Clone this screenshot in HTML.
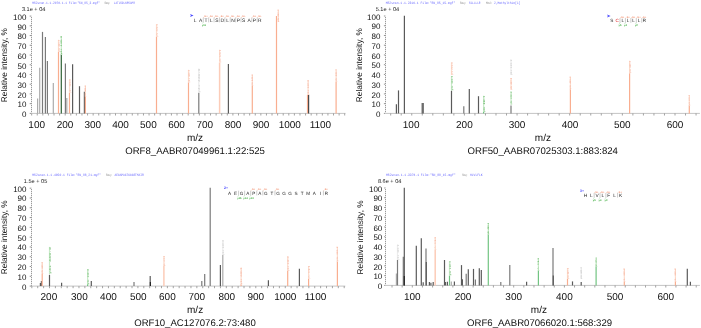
<!DOCTYPE html>
<html><head><meta charset="utf-8"><style>
html,body{margin:0;padding:0;background:#fff;}
svg{display:block;will-change:transform;text-rendering:geometricPrecision;}
</style></head><body>
<svg width="701" height="328" viewBox="0 0 701 328" font-family="Liberation Sans, sans-serif">
<rect width="701" height="328" fill="#fff"/>
<text x="32.20" y="4.30" font-size="3.5" fill="#6a6aff" textLength="67.8" lengthAdjust="spacingAndGlyphs" font-family="Liberation Mono, monospace">MS2scan.1.1.2070.1.1 File:"SN_85_3.mgf"</text>
<text x="104.50" y="4.30" font-size="3.5" fill="#888" textLength="6.0" lengthAdjust="spacingAndGlyphs" font-family="Liberation Mono, monospace">Seq:</text>
<text x="113.80" y="4.30" font-size="3.5" fill="#6a6aff" textLength="21.0" lengthAdjust="spacingAndGlyphs" font-family="Liberation Mono, monospace">LATLSDLNPSAPR</text>
<text x="21.90" y="11.00" font-size="5.6" text-anchor="start" fill="#222" >3.1e + 04</text>
<text x="26.40" y="117.15" font-size="8.0" text-anchor="end" fill="#111" >0</text>
<line x1="29.70" y1="113.40" x2="31.30" y2="113.40" stroke="#888" stroke-width="0.9" />
<text x="26.40" y="107.42" font-size="8.0" text-anchor="end" fill="#111" >10</text>
<line x1="29.70" y1="103.67" x2="31.30" y2="103.67" stroke="#888" stroke-width="0.9" />
<text x="26.40" y="97.69" font-size="8.0" text-anchor="end" fill="#111" >20</text>
<line x1="29.70" y1="93.94" x2="31.30" y2="93.94" stroke="#888" stroke-width="0.9" />
<text x="26.40" y="87.96" font-size="8.0" text-anchor="end" fill="#111" >30</text>
<line x1="29.70" y1="84.21" x2="31.30" y2="84.21" stroke="#888" stroke-width="0.9" />
<text x="26.40" y="78.23" font-size="8.0" text-anchor="end" fill="#111" >40</text>
<line x1="29.70" y1="74.48" x2="31.30" y2="74.48" stroke="#888" stroke-width="0.9" />
<text x="26.40" y="68.50" font-size="8.0" text-anchor="end" fill="#111" >50</text>
<line x1="29.70" y1="64.75" x2="31.30" y2="64.75" stroke="#888" stroke-width="0.9" />
<text x="26.40" y="58.77" font-size="8.0" text-anchor="end" fill="#111" >60</text>
<line x1="29.70" y1="55.02" x2="31.30" y2="55.02" stroke="#888" stroke-width="0.9" />
<text x="26.40" y="49.04" font-size="8.0" text-anchor="end" fill="#111" >70</text>
<line x1="29.70" y1="45.29" x2="31.30" y2="45.29" stroke="#888" stroke-width="0.9" />
<text x="26.40" y="39.31" font-size="8.0" text-anchor="end" fill="#111" >80</text>
<line x1="29.70" y1="35.56" x2="31.30" y2="35.56" stroke="#888" stroke-width="0.9" />
<text x="26.40" y="29.58" font-size="8.0" text-anchor="end" fill="#111" >90</text>
<line x1="29.70" y1="25.83" x2="31.30" y2="25.83" stroke="#888" stroke-width="0.9" />
<text x="26.40" y="19.85" font-size="8.0" text-anchor="end" fill="#111" >100</text>
<line x1="29.70" y1="16.10" x2="31.30" y2="16.10" stroke="#888" stroke-width="0.9" />
<rect x="31" y="15.60" width="1" height="97.80" fill="#e6e6e6"/>
<rect x="31" y="17" width="1" height="1" fill="#9a9a9a"/>
<rect x="31" y="19" width="1" height="1" fill="#9a9a9a"/>
<rect x="31" y="21" width="1" height="1" fill="#9a9a9a"/>
<rect x="31" y="23" width="1" height="1" fill="#9a9a9a"/>
<rect x="31" y="25" width="1" height="1" fill="#9a9a9a"/>
<rect x="31" y="27" width="1" height="1" fill="#9a9a9a"/>
<rect x="31" y="29" width="1" height="1" fill="#9a9a9a"/>
<rect x="31" y="31" width="1" height="1" fill="#9a9a9a"/>
<rect x="31" y="33" width="1" height="1" fill="#9a9a9a"/>
<rect x="31" y="35" width="1" height="1" fill="#9a9a9a"/>
<rect x="31" y="37" width="1" height="1" fill="#9a9a9a"/>
<rect x="31" y="39" width="1" height="1" fill="#9a9a9a"/>
<rect x="31" y="41" width="1" height="1" fill="#9a9a9a"/>
<rect x="31" y="43" width="1" height="1" fill="#9a9a9a"/>
<rect x="31" y="45" width="1" height="1" fill="#9a9a9a"/>
<rect x="31" y="47" width="1" height="1" fill="#9a9a9a"/>
<rect x="31" y="49" width="1" height="1" fill="#9a9a9a"/>
<rect x="31" y="51" width="1" height="1" fill="#9a9a9a"/>
<rect x="31" y="53" width="1" height="1" fill="#9a9a9a"/>
<rect x="31" y="55" width="1" height="1" fill="#9a9a9a"/>
<rect x="31" y="57" width="1" height="1" fill="#9a9a9a"/>
<rect x="31" y="59" width="1" height="1" fill="#9a9a9a"/>
<rect x="31" y="61" width="1" height="1" fill="#9a9a9a"/>
<rect x="31" y="63" width="1" height="1" fill="#9a9a9a"/>
<rect x="31" y="65" width="1" height="1" fill="#9a9a9a"/>
<rect x="31" y="67" width="1" height="1" fill="#9a9a9a"/>
<rect x="31" y="69" width="1" height="1" fill="#9a9a9a"/>
<rect x="31" y="71" width="1" height="1" fill="#9a9a9a"/>
<rect x="31" y="73" width="1" height="1" fill="#9a9a9a"/>
<rect x="31" y="75" width="1" height="1" fill="#9a9a9a"/>
<rect x="31" y="77" width="1" height="1" fill="#9a9a9a"/>
<rect x="31" y="79" width="1" height="1" fill="#9a9a9a"/>
<rect x="31" y="81" width="1" height="1" fill="#9a9a9a"/>
<rect x="31" y="83" width="1" height="1" fill="#9a9a9a"/>
<rect x="31" y="85" width="1" height="1" fill="#9a9a9a"/>
<rect x="31" y="87" width="1" height="1" fill="#9a9a9a"/>
<rect x="31" y="89" width="1" height="1" fill="#9a9a9a"/>
<rect x="31" y="91" width="1" height="1" fill="#9a9a9a"/>
<rect x="31" y="93" width="1" height="1" fill="#9a9a9a"/>
<rect x="31" y="95" width="1" height="1" fill="#9a9a9a"/>
<rect x="31" y="97" width="1" height="1" fill="#9a9a9a"/>
<rect x="31" y="99" width="1" height="1" fill="#9a9a9a"/>
<rect x="31" y="101" width="1" height="1" fill="#9a9a9a"/>
<rect x="31" y="103" width="1" height="1" fill="#9a9a9a"/>
<rect x="31" y="105" width="1" height="1" fill="#9a9a9a"/>
<rect x="31" y="107" width="1" height="1" fill="#9a9a9a"/>
<rect x="31" y="109" width="1" height="1" fill="#9a9a9a"/>
<rect x="31" y="111" width="1" height="1" fill="#9a9a9a"/>
<line x1="31.30" y1="113.40" x2="345.50" y2="113.40" stroke="#c4c4c4" stroke-width="1.0" />
<line x1="31.66" y1="113.40" x2="31.66" y2="115.50" stroke="#8c8c8c" stroke-width="0.8" />
<line x1="37.25" y1="113.40" x2="37.25" y2="115.50" stroke="#8c8c8c" stroke-width="0.8" />
<line x1="42.84" y1="113.40" x2="42.84" y2="115.50" stroke="#8c8c8c" stroke-width="0.8" />
<line x1="48.43" y1="113.40" x2="48.43" y2="115.50" stroke="#8c8c8c" stroke-width="0.8" />
<line x1="54.02" y1="113.40" x2="54.02" y2="115.50" stroke="#8c8c8c" stroke-width="0.8" />
<line x1="59.61" y1="113.40" x2="59.61" y2="115.50" stroke="#8c8c8c" stroke-width="0.8" />
<line x1="65.20" y1="113.40" x2="65.20" y2="115.50" stroke="#8c8c8c" stroke-width="0.8" />
<line x1="70.79" y1="113.40" x2="70.79" y2="115.50" stroke="#8c8c8c" stroke-width="0.8" />
<line x1="76.38" y1="113.40" x2="76.38" y2="115.50" stroke="#8c8c8c" stroke-width="0.8" />
<line x1="81.97" y1="113.40" x2="81.97" y2="115.50" stroke="#8c8c8c" stroke-width="0.8" />
<line x1="87.56" y1="113.40" x2="87.56" y2="115.50" stroke="#8c8c8c" stroke-width="0.8" />
<line x1="93.15" y1="113.40" x2="93.15" y2="115.50" stroke="#8c8c8c" stroke-width="0.8" />
<line x1="98.74" y1="113.40" x2="98.74" y2="115.50" stroke="#8c8c8c" stroke-width="0.8" />
<line x1="104.33" y1="113.40" x2="104.33" y2="115.50" stroke="#8c8c8c" stroke-width="0.8" />
<line x1="109.92" y1="113.40" x2="109.92" y2="115.50" stroke="#8c8c8c" stroke-width="0.8" />
<line x1="115.51" y1="113.40" x2="115.51" y2="115.50" stroke="#8c8c8c" stroke-width="0.8" />
<line x1="121.10" y1="113.40" x2="121.10" y2="115.50" stroke="#8c8c8c" stroke-width="0.8" />
<line x1="126.69" y1="113.40" x2="126.69" y2="115.50" stroke="#8c8c8c" stroke-width="0.8" />
<line x1="132.28" y1="113.40" x2="132.28" y2="115.50" stroke="#8c8c8c" stroke-width="0.8" />
<line x1="137.87" y1="113.40" x2="137.87" y2="115.50" stroke="#8c8c8c" stroke-width="0.8" />
<line x1="143.46" y1="113.40" x2="143.46" y2="115.50" stroke="#8c8c8c" stroke-width="0.8" />
<line x1="149.05" y1="113.40" x2="149.05" y2="115.50" stroke="#8c8c8c" stroke-width="0.8" />
<line x1="154.64" y1="113.40" x2="154.64" y2="115.50" stroke="#8c8c8c" stroke-width="0.8" />
<line x1="160.23" y1="113.40" x2="160.23" y2="115.50" stroke="#8c8c8c" stroke-width="0.8" />
<line x1="165.82" y1="113.40" x2="165.82" y2="115.50" stroke="#8c8c8c" stroke-width="0.8" />
<line x1="171.41" y1="113.40" x2="171.41" y2="115.50" stroke="#8c8c8c" stroke-width="0.8" />
<line x1="177.00" y1="113.40" x2="177.00" y2="115.50" stroke="#8c8c8c" stroke-width="0.8" />
<line x1="182.59" y1="113.40" x2="182.59" y2="115.50" stroke="#8c8c8c" stroke-width="0.8" />
<line x1="188.18" y1="113.40" x2="188.18" y2="115.50" stroke="#8c8c8c" stroke-width="0.8" />
<line x1="193.77" y1="113.40" x2="193.77" y2="115.50" stroke="#8c8c8c" stroke-width="0.8" />
<line x1="199.36" y1="113.40" x2="199.36" y2="115.50" stroke="#8c8c8c" stroke-width="0.8" />
<line x1="204.95" y1="113.40" x2="204.95" y2="115.50" stroke="#8c8c8c" stroke-width="0.8" />
<line x1="210.54" y1="113.40" x2="210.54" y2="115.50" stroke="#8c8c8c" stroke-width="0.8" />
<line x1="216.13" y1="113.40" x2="216.13" y2="115.50" stroke="#8c8c8c" stroke-width="0.8" />
<line x1="221.72" y1="113.40" x2="221.72" y2="115.50" stroke="#8c8c8c" stroke-width="0.8" />
<line x1="227.31" y1="113.40" x2="227.31" y2="115.50" stroke="#8c8c8c" stroke-width="0.8" />
<line x1="232.90" y1="113.40" x2="232.90" y2="115.50" stroke="#8c8c8c" stroke-width="0.8" />
<line x1="238.49" y1="113.40" x2="238.49" y2="115.50" stroke="#8c8c8c" stroke-width="0.8" />
<line x1="244.08" y1="113.40" x2="244.08" y2="115.50" stroke="#8c8c8c" stroke-width="0.8" />
<line x1="249.67" y1="113.40" x2="249.67" y2="115.50" stroke="#8c8c8c" stroke-width="0.8" />
<line x1="255.26" y1="113.40" x2="255.26" y2="115.50" stroke="#8c8c8c" stroke-width="0.8" />
<line x1="260.85" y1="113.40" x2="260.85" y2="115.50" stroke="#8c8c8c" stroke-width="0.8" />
<line x1="266.44" y1="113.40" x2="266.44" y2="115.50" stroke="#8c8c8c" stroke-width="0.8" />
<line x1="272.03" y1="113.40" x2="272.03" y2="115.50" stroke="#8c8c8c" stroke-width="0.8" />
<line x1="277.62" y1="113.40" x2="277.62" y2="115.50" stroke="#8c8c8c" stroke-width="0.8" />
<line x1="283.21" y1="113.40" x2="283.21" y2="115.50" stroke="#8c8c8c" stroke-width="0.8" />
<line x1="288.80" y1="113.40" x2="288.80" y2="115.50" stroke="#8c8c8c" stroke-width="0.8" />
<line x1="294.39" y1="113.40" x2="294.39" y2="115.50" stroke="#8c8c8c" stroke-width="0.8" />
<line x1="299.98" y1="113.40" x2="299.98" y2="115.50" stroke="#8c8c8c" stroke-width="0.8" />
<line x1="305.57" y1="113.40" x2="305.57" y2="115.50" stroke="#8c8c8c" stroke-width="0.8" />
<line x1="311.16" y1="113.40" x2="311.16" y2="115.50" stroke="#8c8c8c" stroke-width="0.8" />
<line x1="316.75" y1="113.40" x2="316.75" y2="115.50" stroke="#8c8c8c" stroke-width="0.8" />
<line x1="322.34" y1="113.40" x2="322.34" y2="115.50" stroke="#8c8c8c" stroke-width="0.8" />
<line x1="327.93" y1="113.40" x2="327.93" y2="115.50" stroke="#8c8c8c" stroke-width="0.8" />
<line x1="333.52" y1="113.40" x2="333.52" y2="115.50" stroke="#8c8c8c" stroke-width="0.8" />
<line x1="339.11" y1="113.40" x2="339.11" y2="115.50" stroke="#8c8c8c" stroke-width="0.8" />
<line x1="344.70" y1="113.40" x2="344.70" y2="115.50" stroke="#8c8c8c" stroke-width="0.8" />
<text x="36.70" y="128.20" font-size="10" text-anchor="middle" fill="#111" >100</text>
<text x="65.00" y="128.20" font-size="10" text-anchor="middle" fill="#111" >200</text>
<text x="92.80" y="128.20" font-size="10" text-anchor="middle" fill="#111" >300</text>
<text x="120.60" y="128.20" font-size="10" text-anchor="middle" fill="#111" >400</text>
<text x="148.40" y="128.20" font-size="10" text-anchor="middle" fill="#111" >500</text>
<text x="176.60" y="128.20" font-size="10" text-anchor="middle" fill="#111" >600</text>
<text x="204.80" y="128.20" font-size="10" text-anchor="middle" fill="#111" >700</text>
<text x="233.10" y="128.20" font-size="10" text-anchor="middle" fill="#111" >800</text>
<text x="261.00" y="128.20" font-size="10" text-anchor="middle" fill="#111" >900</text>
<text x="289.80" y="128.20" font-size="10" text-anchor="middle" fill="#111" >1000</text>
<text x="320.40" y="128.20" font-size="10" text-anchor="middle" fill="#111" >1100</text>
<text transform="translate(7.30,65.10) rotate(-90)" font-size="8.3" text-anchor="middle" fill="#111">Relative intensity, %</text>
<text x="195.00" y="140.50" font-size="10" text-anchor="middle" fill="#111" >m/z</text>
<text x="195.10" y="154.00" font-size="9.6" text-anchor="middle" fill="#111" >ORF8_AABR07049961.1:22:525</text>
<line x1="37.60" y1="98.50" x2="37.60" y2="113.40" stroke="#ababab" stroke-width="1.2" />
<line x1="39.70" y1="67.70" x2="39.70" y2="113.40" stroke="#ababab" stroke-width="1.2" />
<line x1="42.50" y1="31.90" x2="42.50" y2="113.40" stroke="#7a7a7a" stroke-width="1.2" />
<line x1="45.40" y1="37.10" x2="45.40" y2="113.40" stroke="#7a7a7a" stroke-width="1.2" />
<line x1="47.40" y1="60.90" x2="47.40" y2="113.40" stroke="#7a7a7a" stroke-width="1.2" />
<line x1="53.30" y1="83.00" x2="53.30" y2="113.40" stroke="#ababab" stroke-width="1.2" />
<line x1="58.50" y1="52.00" x2="58.50" y2="113.40" stroke="#f9ae90" stroke-width="1.2" />
<line x1="61.30" y1="54.80" x2="61.30" y2="113.40" stroke="#2f6236" stroke-width="1.2" />
<line x1="65.40" y1="63.60" x2="65.40" y2="113.40" stroke="#7a7a7a" stroke-width="1.2" />
<line x1="66.80" y1="98.00" x2="66.80" y2="113.40" stroke="#ababab" stroke-width="1.2" />
<line x1="69.50" y1="92.70" x2="69.50" y2="113.40" stroke="#f9ae90" stroke-width="1.2" />
<line x1="72.60" y1="64.20" x2="72.60" y2="113.40" stroke="#5a5a5a" stroke-width="1.2" />
<line x1="79.50" y1="86.20" x2="79.50" y2="113.40" stroke="#5a5a5a" stroke-width="1.2" />
<line x1="84.40" y1="91.80" x2="84.40" y2="113.40" stroke="#5a5a5a" stroke-width="1.2" />
<line x1="85.40" y1="97.00" x2="85.40" y2="113.40" stroke="#f9ae90" stroke-width="1.2" />
<line x1="156.50" y1="37.00" x2="156.50" y2="113.40" stroke="#f9ae90" stroke-width="1.2" />
<line x1="188.50" y1="82.40" x2="188.50" y2="113.40" stroke="#f9ae90" stroke-width="1.2" />
<line x1="198.80" y1="92.70" x2="198.80" y2="113.40" stroke="#7a7a7a" stroke-width="1.2" />
<line x1="219.60" y1="62.60" x2="219.60" y2="113.40" stroke="#fcccb8" stroke-width="1.5" />
<line x1="228.40" y1="64.00" x2="228.40" y2="113.40" stroke="#5a5a5a" stroke-width="1.2" />
<line x1="252.30" y1="86.00" x2="252.30" y2="113.40" stroke="#f9ae90" stroke-width="1.2" />
<line x1="276.50" y1="16.00" x2="276.50" y2="113.40" stroke="#f9ae90" stroke-width="1.2" />
<line x1="307.50" y1="94.90" x2="307.50" y2="113.40" stroke="#f9ae90" stroke-width="1.2" />
<line x1="308.60" y1="94.90" x2="308.60" y2="113.40" stroke="#4a4a4a" stroke-width="1.2" />
<line x1="336.10" y1="81.80" x2="336.10" y2="113.40" stroke="#f9ae90" stroke-width="1.2" />
<line x1="58.50" y1="39.80" x2="58.50" y2="52.00" stroke="#fddccc" stroke-width="1.2" />
<text transform="translate(59.50,52.00) rotate(-90)" font-size="2.4" fill="#f3a690" textLength="12.2" lengthAdjust="spacingAndGlyphs" font-family="Liberation Mono, monospace">y4+ 443.2</text>
<line x1="61.30" y1="36.00" x2="61.30" y2="54.80" stroke="#c8eac8" stroke-width="1.2" />
<text transform="translate(62.30,54.80) rotate(-90)" font-size="2.4" fill="#4aa84a" textLength="18.8" lengthAdjust="spacingAndGlyphs" font-family="Liberation Mono, monospace">y4+ 443.2</text>
<line x1="69.50" y1="79.30" x2="69.50" y2="92.70" stroke="#fddccc" stroke-width="1.2" />
<text transform="translate(70.50,92.70) rotate(-90)" font-size="2.4" fill="#f3a690" textLength="13.4" lengthAdjust="spacingAndGlyphs" font-family="Liberation Mono, monospace">y4+ 443.2</text>
<line x1="85.40" y1="85.40" x2="85.40" y2="97.00" stroke="#fddccc" stroke-width="1.2" />
<text transform="translate(86.40,97.00) rotate(-90)" font-size="2.4" fill="#f3a690" textLength="11.6" lengthAdjust="spacingAndGlyphs" font-family="Liberation Mono, monospace">y4+ 443.2</text>
<line x1="156.50" y1="24.10" x2="156.50" y2="37.00" stroke="#fddccc" stroke-width="1.2" />
<text transform="translate(157.50,37.00) rotate(-90)" font-size="2.4" fill="#f3a690" textLength="12.9" lengthAdjust="spacingAndGlyphs" font-family="Liberation Mono, monospace">y4+ 443.2</text>
<line x1="188.50" y1="69.80" x2="188.50" y2="82.40" stroke="#fddccc" stroke-width="1.2" />
<text transform="translate(189.50,82.40) rotate(-90)" font-size="2.4" fill="#f3a690" textLength="12.6" lengthAdjust="spacingAndGlyphs" font-family="Liberation Mono, monospace">y4+ 443.2</text>
<line x1="198.80" y1="68.60" x2="198.80" y2="92.70" stroke="#ececec" stroke-width="1.2" />
<text transform="translate(199.80,92.70) rotate(-90)" font-size="2.4" fill="#bdbdbd" textLength="24.1" lengthAdjust="spacingAndGlyphs" font-family="Liberation Mono, monospace">y4+ 443.2</text>
<line x1="219.60" y1="49.80" x2="219.60" y2="62.60" stroke="#fddccc" stroke-width="1.2" />
<text transform="translate(220.60,62.60) rotate(-90)" font-size="2.4" fill="#f3a690" textLength="12.8" lengthAdjust="spacingAndGlyphs" font-family="Liberation Mono, monospace">y4+ 443.2</text>
<line x1="252.30" y1="74.50" x2="252.30" y2="86.00" stroke="#fddccc" stroke-width="1.2" />
<text transform="translate(253.30,86.00) rotate(-90)" font-size="2.4" fill="#f3a690" textLength="11.5" lengthAdjust="spacingAndGlyphs" font-family="Liberation Mono, monospace">y4+ 443.2</text>
<line x1="278.30" y1="9.60" x2="278.30" y2="22.00" stroke="#fddccc" stroke-width="1.2" />
<text transform="translate(279.30,22.00) rotate(-90)" font-size="2.4" fill="#f3a690" textLength="12.4" lengthAdjust="spacingAndGlyphs" font-family="Liberation Mono, monospace">y4+ 443.2</text>
<line x1="308.10" y1="80.10" x2="308.10" y2="94.90" stroke="#fddccc" stroke-width="1.2" />
<text transform="translate(309.10,94.90) rotate(-90)" font-size="2.4" fill="#f3a690" textLength="14.8" lengthAdjust="spacingAndGlyphs" font-family="Liberation Mono, monospace">y4+ 443.2</text>
<line x1="336.10" y1="69.20" x2="336.10" y2="81.80" stroke="#fddccc" stroke-width="1.2" />
<text transform="translate(337.10,81.80) rotate(-90)" font-size="2.4" fill="#f3a690" textLength="12.6" lengthAdjust="spacingAndGlyphs" font-family="Liberation Mono, monospace">y4+ 443.2</text>
<text x="195.20" y="21.80" font-size="4.9" text-anchor="middle" fill="#262626" >L</text>
<text x="200.59" y="21.80" font-size="4.9" text-anchor="middle" fill="#262626" >A</text>
<text x="205.98" y="21.80" font-size="4.9" text-anchor="middle" fill="#262626" >T</text>
<text x="211.37" y="21.80" font-size="4.9" text-anchor="middle" fill="#262626" >L</text>
<text x="216.76" y="21.80" font-size="4.9" text-anchor="middle" fill="#262626" >S</text>
<text x="222.15" y="21.80" font-size="4.9" text-anchor="middle" fill="#262626" >D</text>
<text x="227.54" y="21.80" font-size="4.9" text-anchor="middle" fill="#262626" >L</text>
<text x="232.93" y="21.80" font-size="4.9" text-anchor="middle" fill="#262626" >N</text>
<text x="238.32" y="21.80" font-size="4.9" text-anchor="middle" fill="#262626" >P</text>
<text x="243.71" y="21.80" font-size="4.9" text-anchor="middle" fill="#262626" >S</text>
<text x="249.10" y="21.80" font-size="4.9" text-anchor="middle" fill="#262626" >A</text>
<text x="254.49" y="21.80" font-size="4.9" text-anchor="middle" fill="#262626" >P</text>
<text x="259.88" y="21.80" font-size="4.9" text-anchor="middle" fill="#262626" >R</text>
<path d="M190.00,13.90 L193.60,15.40 L190.00,16.90 L190.90,15.40 Z" fill="#4a4aff"/>
<line x1="203.28" y1="17.60" x2="203.28" y2="22.30" stroke="#aaa" stroke-width="0.6" />
<line x1="208.67" y1="17.60" x2="208.67" y2="22.30" stroke="#aaa" stroke-width="0.6" />
<line x1="214.06" y1="17.60" x2="214.06" y2="22.30" stroke="#aaa" stroke-width="0.6" />
<line x1="219.45" y1="17.60" x2="219.45" y2="22.30" stroke="#aaa" stroke-width="0.6" />
<line x1="224.84" y1="17.60" x2="224.84" y2="22.30" stroke="#aaa" stroke-width="0.6" />
<line x1="230.23" y1="17.60" x2="230.23" y2="22.30" stroke="#aaa" stroke-width="0.6" />
<line x1="235.62" y1="17.60" x2="235.62" y2="22.30" stroke="#aaa" stroke-width="0.6" />
<line x1="241.01" y1="17.60" x2="241.01" y2="22.30" stroke="#aaa" stroke-width="0.6" />
<line x1="251.79" y1="17.60" x2="251.79" y2="22.30" stroke="#aaa" stroke-width="0.6" />
<line x1="257.19" y1="17.60" x2="257.19" y2="22.30" stroke="#aaa" stroke-width="0.6" />
<line x1="203.28" y1="17.60" x2="204.28" y2="16.90" stroke="#f4b090" stroke-width="0.5" />
<text x="204.59" y="17.20" font-size="2.6" text-anchor="start" fill="#f29070" font-weight="bold">b+</text>
<line x1="208.67" y1="17.60" x2="209.67" y2="16.90" stroke="#f4b090" stroke-width="0.5" />
<text x="209.97" y="17.20" font-size="2.6" text-anchor="start" fill="#f29070" font-weight="bold">b+</text>
<line x1="214.06" y1="17.60" x2="215.06" y2="16.90" stroke="#f4b090" stroke-width="0.5" />
<text x="215.37" y="17.20" font-size="2.6" text-anchor="start" fill="#f29070" font-weight="bold">b+</text>
<line x1="219.45" y1="17.60" x2="220.45" y2="16.90" stroke="#f4b090" stroke-width="0.5" />
<text x="220.75" y="17.20" font-size="2.6" text-anchor="start" fill="#f29070" font-weight="bold">b+</text>
<line x1="224.84" y1="17.60" x2="225.84" y2="16.90" stroke="#f4b090" stroke-width="0.5" />
<text x="226.15" y="17.20" font-size="2.6" text-anchor="start" fill="#f29070" font-weight="bold">b+</text>
<line x1="230.23" y1="17.60" x2="231.23" y2="16.90" stroke="#f4b090" stroke-width="0.5" />
<text x="231.53" y="17.20" font-size="2.6" text-anchor="start" fill="#f29070" font-weight="bold">b+</text>
<line x1="235.62" y1="17.60" x2="236.62" y2="16.90" stroke="#f4b090" stroke-width="0.5" />
<text x="236.93" y="17.20" font-size="2.6" text-anchor="start" fill="#f29070" font-weight="bold">b+</text>
<line x1="241.01" y1="17.60" x2="242.01" y2="16.90" stroke="#f4b090" stroke-width="0.5" />
<text x="242.31" y="17.20" font-size="2.6" text-anchor="start" fill="#f29070" font-weight="bold">b+</text>
<line x1="251.79" y1="17.60" x2="252.79" y2="16.90" stroke="#f4b090" stroke-width="0.5" />
<text x="253.09" y="17.20" font-size="2.6" text-anchor="start" fill="#f29070" font-weight="bold">b+</text>
<line x1="257.19" y1="17.60" x2="258.19" y2="16.90" stroke="#f4b090" stroke-width="0.5" />
<text x="258.49" y="17.20" font-size="2.6" text-anchor="start" fill="#f29070" font-weight="bold">b+</text>
<line x1="203.28" y1="22.30" x2="202.48" y2="23.40" stroke="#90d090" stroke-width="0.5" />
<text x="201.88" y="25.60" font-size="2.6" text-anchor="start" fill="#36a836" font-weight="bold">y11</text>
<text x="385.70" y="4.30" font-size="3.5" fill="#6a6aff" textLength="69.6" lengthAdjust="spacingAndGlyphs" font-family="Liberation Mono, monospace">MS2scan.1.1.2316.1 File:"SN_85_15.mgf"</text>
<text x="460.00" y="4.30" font-size="3.5" fill="#888" textLength="6.0" lengthAdjust="spacingAndGlyphs" font-family="Liberation Mono, monospace">Seq:</text>
<text x="469.00" y="4.30" font-size="3.5" fill="#6a6aff" textLength="11.5" lengthAdjust="spacingAndGlyphs" font-family="Liberation Mono, monospace">SCLLLLR</text>
<text x="486.00" y="4.30" font-size="3.5" fill="#888" textLength="6.0" lengthAdjust="spacingAndGlyphs" font-family="Liberation Mono, monospace">Mod:</text>
<text x="494.00" y="4.30" font-size="3.5" fill="#6a6aff" textLength="26.4" lengthAdjust="spacingAndGlyphs" font-family="Liberation Mono, monospace">2,Methylthio[C]</text>
<text x="375.70" y="11.00" font-size="5.6" text-anchor="start" fill="#222" >5.1e + 04</text>
<text x="380.40" y="117.15" font-size="8.0" text-anchor="end" fill="#111" >0</text>
<line x1="383.90" y1="113.40" x2="385.50" y2="113.40" stroke="#888" stroke-width="0.9" />
<text x="380.40" y="107.41" font-size="8.0" text-anchor="end" fill="#111" >10</text>
<line x1="383.90" y1="103.66" x2="385.50" y2="103.66" stroke="#888" stroke-width="0.9" />
<text x="380.40" y="97.67" font-size="8.0" text-anchor="end" fill="#111" >20</text>
<line x1="383.90" y1="93.92" x2="385.50" y2="93.92" stroke="#888" stroke-width="0.9" />
<text x="380.40" y="87.93" font-size="8.0" text-anchor="end" fill="#111" >30</text>
<line x1="383.90" y1="84.18" x2="385.50" y2="84.18" stroke="#888" stroke-width="0.9" />
<text x="380.40" y="78.19" font-size="8.0" text-anchor="end" fill="#111" >40</text>
<line x1="383.90" y1="74.44" x2="385.50" y2="74.44" stroke="#888" stroke-width="0.9" />
<text x="380.40" y="68.45" font-size="8.0" text-anchor="end" fill="#111" >50</text>
<line x1="383.90" y1="64.70" x2="385.50" y2="64.70" stroke="#888" stroke-width="0.9" />
<text x="380.40" y="58.71" font-size="8.0" text-anchor="end" fill="#111" >60</text>
<line x1="383.90" y1="54.96" x2="385.50" y2="54.96" stroke="#888" stroke-width="0.9" />
<text x="380.40" y="48.97" font-size="8.0" text-anchor="end" fill="#111" >70</text>
<line x1="383.90" y1="45.22" x2="385.50" y2="45.22" stroke="#888" stroke-width="0.9" />
<text x="380.40" y="39.23" font-size="8.0" text-anchor="end" fill="#111" >80</text>
<line x1="383.90" y1="35.48" x2="385.50" y2="35.48" stroke="#888" stroke-width="0.9" />
<text x="380.40" y="29.49" font-size="8.0" text-anchor="end" fill="#111" >90</text>
<line x1="383.90" y1="25.74" x2="385.50" y2="25.74" stroke="#888" stroke-width="0.9" />
<text x="380.40" y="19.75" font-size="8.0" text-anchor="end" fill="#111" >100</text>
<line x1="383.90" y1="16.00" x2="385.50" y2="16.00" stroke="#888" stroke-width="0.9" />
<rect x="385" y="15.50" width="1" height="97.90" fill="#e6e6e6"/>
<rect x="385" y="17" width="1" height="1" fill="#9a9a9a"/>
<rect x="385" y="19" width="1" height="1" fill="#9a9a9a"/>
<rect x="385" y="21" width="1" height="1" fill="#9a9a9a"/>
<rect x="385" y="23" width="1" height="1" fill="#9a9a9a"/>
<rect x="385" y="25" width="1" height="1" fill="#9a9a9a"/>
<rect x="385" y="27" width="1" height="1" fill="#9a9a9a"/>
<rect x="385" y="29" width="1" height="1" fill="#9a9a9a"/>
<rect x="385" y="31" width="1" height="1" fill="#9a9a9a"/>
<rect x="385" y="33" width="1" height="1" fill="#9a9a9a"/>
<rect x="385" y="35" width="1" height="1" fill="#9a9a9a"/>
<rect x="385" y="37" width="1" height="1" fill="#9a9a9a"/>
<rect x="385" y="39" width="1" height="1" fill="#9a9a9a"/>
<rect x="385" y="41" width="1" height="1" fill="#9a9a9a"/>
<rect x="385" y="43" width="1" height="1" fill="#9a9a9a"/>
<rect x="385" y="45" width="1" height="1" fill="#9a9a9a"/>
<rect x="385" y="47" width="1" height="1" fill="#9a9a9a"/>
<rect x="385" y="49" width="1" height="1" fill="#9a9a9a"/>
<rect x="385" y="51" width="1" height="1" fill="#9a9a9a"/>
<rect x="385" y="53" width="1" height="1" fill="#9a9a9a"/>
<rect x="385" y="55" width="1" height="1" fill="#9a9a9a"/>
<rect x="385" y="57" width="1" height="1" fill="#9a9a9a"/>
<rect x="385" y="59" width="1" height="1" fill="#9a9a9a"/>
<rect x="385" y="61" width="1" height="1" fill="#9a9a9a"/>
<rect x="385" y="63" width="1" height="1" fill="#9a9a9a"/>
<rect x="385" y="65" width="1" height="1" fill="#9a9a9a"/>
<rect x="385" y="67" width="1" height="1" fill="#9a9a9a"/>
<rect x="385" y="69" width="1" height="1" fill="#9a9a9a"/>
<rect x="385" y="71" width="1" height="1" fill="#9a9a9a"/>
<rect x="385" y="73" width="1" height="1" fill="#9a9a9a"/>
<rect x="385" y="75" width="1" height="1" fill="#9a9a9a"/>
<rect x="385" y="77" width="1" height="1" fill="#9a9a9a"/>
<rect x="385" y="79" width="1" height="1" fill="#9a9a9a"/>
<rect x="385" y="81" width="1" height="1" fill="#9a9a9a"/>
<rect x="385" y="83" width="1" height="1" fill="#9a9a9a"/>
<rect x="385" y="85" width="1" height="1" fill="#9a9a9a"/>
<rect x="385" y="87" width="1" height="1" fill="#9a9a9a"/>
<rect x="385" y="89" width="1" height="1" fill="#9a9a9a"/>
<rect x="385" y="91" width="1" height="1" fill="#9a9a9a"/>
<rect x="385" y="93" width="1" height="1" fill="#9a9a9a"/>
<rect x="385" y="95" width="1" height="1" fill="#9a9a9a"/>
<rect x="385" y="97" width="1" height="1" fill="#9a9a9a"/>
<rect x="385" y="99" width="1" height="1" fill="#9a9a9a"/>
<rect x="385" y="101" width="1" height="1" fill="#9a9a9a"/>
<rect x="385" y="103" width="1" height="1" fill="#9a9a9a"/>
<rect x="385" y="105" width="1" height="1" fill="#9a9a9a"/>
<rect x="385" y="107" width="1" height="1" fill="#9a9a9a"/>
<rect x="385" y="109" width="1" height="1" fill="#9a9a9a"/>
<rect x="385" y="111" width="1" height="1" fill="#9a9a9a"/>
<line x1="385.50" y1="113.40" x2="699.90" y2="113.40" stroke="#c4c4c4" stroke-width="1.0" />
<line x1="390.69" y1="113.40" x2="390.69" y2="115.50" stroke="#8c8c8c" stroke-width="0.8" />
<line x1="401.22" y1="113.40" x2="401.22" y2="115.50" stroke="#8c8c8c" stroke-width="0.8" />
<line x1="411.75" y1="113.40" x2="411.75" y2="115.50" stroke="#8c8c8c" stroke-width="0.8" />
<line x1="422.28" y1="113.40" x2="422.28" y2="115.50" stroke="#8c8c8c" stroke-width="0.8" />
<line x1="432.81" y1="113.40" x2="432.81" y2="115.50" stroke="#8c8c8c" stroke-width="0.8" />
<line x1="443.34" y1="113.40" x2="443.34" y2="115.50" stroke="#8c8c8c" stroke-width="0.8" />
<line x1="453.87" y1="113.40" x2="453.87" y2="115.50" stroke="#8c8c8c" stroke-width="0.8" />
<line x1="464.40" y1="113.40" x2="464.40" y2="115.50" stroke="#8c8c8c" stroke-width="0.8" />
<line x1="474.93" y1="113.40" x2="474.93" y2="115.50" stroke="#8c8c8c" stroke-width="0.8" />
<line x1="485.46" y1="113.40" x2="485.46" y2="115.50" stroke="#8c8c8c" stroke-width="0.8" />
<line x1="495.99" y1="113.40" x2="495.99" y2="115.50" stroke="#8c8c8c" stroke-width="0.8" />
<line x1="506.52" y1="113.40" x2="506.52" y2="115.50" stroke="#8c8c8c" stroke-width="0.8" />
<line x1="517.05" y1="113.40" x2="517.05" y2="115.50" stroke="#8c8c8c" stroke-width="0.8" />
<line x1="527.58" y1="113.40" x2="527.58" y2="115.50" stroke="#8c8c8c" stroke-width="0.8" />
<line x1="538.11" y1="113.40" x2="538.11" y2="115.50" stroke="#8c8c8c" stroke-width="0.8" />
<line x1="548.64" y1="113.40" x2="548.64" y2="115.50" stroke="#8c8c8c" stroke-width="0.8" />
<line x1="559.17" y1="113.40" x2="559.17" y2="115.50" stroke="#8c8c8c" stroke-width="0.8" />
<line x1="569.70" y1="113.40" x2="569.70" y2="115.50" stroke="#8c8c8c" stroke-width="0.8" />
<line x1="580.23" y1="113.40" x2="580.23" y2="115.50" stroke="#8c8c8c" stroke-width="0.8" />
<line x1="590.76" y1="113.40" x2="590.76" y2="115.50" stroke="#8c8c8c" stroke-width="0.8" />
<line x1="601.29" y1="113.40" x2="601.29" y2="115.50" stroke="#8c8c8c" stroke-width="0.8" />
<line x1="611.82" y1="113.40" x2="611.82" y2="115.50" stroke="#8c8c8c" stroke-width="0.8" />
<line x1="622.35" y1="113.40" x2="622.35" y2="115.50" stroke="#8c8c8c" stroke-width="0.8" />
<line x1="632.88" y1="113.40" x2="632.88" y2="115.50" stroke="#8c8c8c" stroke-width="0.8" />
<line x1="643.41" y1="113.40" x2="643.41" y2="115.50" stroke="#8c8c8c" stroke-width="0.8" />
<line x1="653.94" y1="113.40" x2="653.94" y2="115.50" stroke="#8c8c8c" stroke-width="0.8" />
<line x1="664.47" y1="113.40" x2="664.47" y2="115.50" stroke="#8c8c8c" stroke-width="0.8" />
<line x1="675.00" y1="113.40" x2="675.00" y2="115.50" stroke="#8c8c8c" stroke-width="0.8" />
<line x1="685.53" y1="113.40" x2="685.53" y2="115.50" stroke="#8c8c8c" stroke-width="0.8" />
<line x1="696.06" y1="113.40" x2="696.06" y2="115.50" stroke="#8c8c8c" stroke-width="0.8" />
<text x="411.15" y="128.20" font-size="10" text-anchor="middle" fill="#111" >100</text>
<text x="464.40" y="128.20" font-size="10" text-anchor="middle" fill="#111" >200</text>
<text x="517.05" y="128.20" font-size="10" text-anchor="middle" fill="#111" >300</text>
<text x="570.10" y="128.20" font-size="10" text-anchor="middle" fill="#111" >400</text>
<text x="622.35" y="128.20" font-size="10" text-anchor="middle" fill="#111" >500</text>
<text x="675.00" y="128.20" font-size="10" text-anchor="middle" fill="#111" >600</text>
<text transform="translate(361.50,65.10) rotate(-90)" font-size="8.3" text-anchor="middle" fill="#111">Relative intensity, %</text>
<text x="542.90" y="140.80" font-size="10" text-anchor="middle" fill="#111" >m/z</text>
<text x="542.70" y="154.20" font-size="9.6" text-anchor="middle" fill="#111" >ORF50_AABR07025303.1:883:824</text>
<line x1="396.40" y1="104.30" x2="396.40" y2="113.40" stroke="#5a5a5a" stroke-width="1.2" />
<line x1="398.50" y1="90.40" x2="398.50" y2="113.40" stroke="#5a5a5a" stroke-width="1.2" />
<line x1="404.40" y1="15.80" x2="404.40" y2="113.40" stroke="#5a5a5a" stroke-width="1.2" />
<line x1="422.20" y1="103.10" x2="422.20" y2="113.40" stroke="#5a5a5a" stroke-width="1.2" />
<line x1="423.20" y1="103.10" x2="423.20" y2="113.40" stroke="#5a5a5a" stroke-width="1.2" />
<line x1="451.50" y1="90.70" x2="451.50" y2="113.40" stroke="#5a5a5a" stroke-width="1.2" />
<line x1="463.80" y1="106.30" x2="463.80" y2="113.40" stroke="#7a7a7a" stroke-width="1.2" />
<line x1="469.30" y1="88.90" x2="469.30" y2="113.40" stroke="#5a5a5a" stroke-width="1.2" />
<line x1="478.50" y1="96.20" x2="478.50" y2="113.40" stroke="#5a5a5a" stroke-width="1.2" />
<line x1="483.60" y1="110.00" x2="483.60" y2="113.40" stroke="#72c482" stroke-width="1.2" />
<line x1="511.00" y1="105.40" x2="511.00" y2="113.40" stroke="#7a7a7a" stroke-width="1.2" />
<line x1="570.40" y1="89.20" x2="570.40" y2="113.40" stroke="#f9ae90" stroke-width="1.2" />
<line x1="629.60" y1="73.20" x2="629.60" y2="113.40" stroke="#f9ae90" stroke-width="1.2" />
<line x1="689.30" y1="105.50" x2="689.30" y2="113.40" stroke="#f9ae90" stroke-width="1.2" />
<line x1="451.50" y1="76.00" x2="451.50" y2="90.50" stroke="#c8eac8" stroke-width="1.2" />
<text transform="translate(452.50,90.50) rotate(-90)" font-size="2.4" fill="#4aa84a" textLength="14.5" lengthAdjust="spacingAndGlyphs" font-family="Liberation Mono, monospace">y4+ 443.2</text>
<line x1="451.50" y1="62.30" x2="451.50" y2="75.10" stroke="#fddccc" stroke-width="1.2" />
<text transform="translate(452.50,75.10) rotate(-90)" font-size="2.4" fill="#f3a690" textLength="12.8" lengthAdjust="spacingAndGlyphs" font-family="Liberation Mono, monospace">y4+ 443.2</text>
<line x1="483.60" y1="95.70" x2="483.60" y2="112.00" stroke="#c8eac8" stroke-width="1.2" />
<text transform="translate(484.60,112.00) rotate(-90)" font-size="2.4" fill="#4aa84a" textLength="16.3" lengthAdjust="spacingAndGlyphs" font-family="Liberation Mono, monospace">y4+ 443.2</text>
<line x1="511.00" y1="91.60" x2="511.00" y2="104.50" stroke="#c8eac8" stroke-width="1.2" />
<text transform="translate(512.00,104.50) rotate(-90)" font-size="2.4" fill="#4aa84a" textLength="12.9" lengthAdjust="spacingAndGlyphs" font-family="Liberation Mono, monospace">y4+ 443.2</text>
<line x1="511.00" y1="77.90" x2="511.00" y2="89.80" stroke="#fddccc" stroke-width="1.2" />
<text transform="translate(512.00,89.80) rotate(-90)" font-size="2.4" fill="#f3a690" textLength="11.9" lengthAdjust="spacingAndGlyphs" font-family="Liberation Mono, monospace">y4+ 443.2</text>
<line x1="511.00" y1="59.60" x2="511.00" y2="75.10" stroke="#ececec" stroke-width="1.2" />
<text transform="translate(512.00,75.10) rotate(-90)" font-size="2.4" fill="#bdbdbd" textLength="15.5" lengthAdjust="spacingAndGlyphs" font-family="Liberation Mono, monospace">y4+ 443.2</text>
<line x1="570.40" y1="76.60" x2="570.40" y2="89.20" stroke="#fddccc" stroke-width="1.2" />
<text transform="translate(571.40,89.20) rotate(-90)" font-size="2.4" fill="#f3a690" textLength="12.6" lengthAdjust="spacingAndGlyphs" font-family="Liberation Mono, monospace">y4+ 443.2</text>
<line x1="629.60" y1="60.80" x2="629.60" y2="73.20" stroke="#fddccc" stroke-width="1.2" />
<text transform="translate(630.60,73.20) rotate(-90)" font-size="2.4" fill="#f3a690" textLength="12.4" lengthAdjust="spacingAndGlyphs" font-family="Liberation Mono, monospace">y4+ 443.2</text>
<line x1="689.30" y1="95.20" x2="689.30" y2="105.50" stroke="#fddccc" stroke-width="1.2" />
<text transform="translate(690.30,105.50) rotate(-90)" font-size="2.4" fill="#f3a690" textLength="10.3" lengthAdjust="spacingAndGlyphs" font-family="Liberation Mono, monospace">y4+ 443.2</text>
<text x="611.80" y="22.30" font-size="4.6" text-anchor="middle" fill="#262626" >S</text>
<text x="617.25" y="22.30" font-size="4.6" text-anchor="middle" fill="#e02020" >C</text>
<text x="622.70" y="22.30" font-size="4.6" text-anchor="middle" fill="#262626" >L</text>
<text x="628.15" y="22.30" font-size="4.6" text-anchor="middle" fill="#262626" >L</text>
<text x="633.60" y="22.30" font-size="4.6" text-anchor="middle" fill="#262626" >L</text>
<text x="639.05" y="22.30" font-size="4.6" text-anchor="middle" fill="#262626" >L</text>
<text x="644.50" y="22.30" font-size="4.6" text-anchor="middle" fill="#262626" >R</text>
<path d="M607.00,14.60 L610.60,16.10 L607.00,17.60 L607.90,16.10 Z" fill="#4a4aff"/>
<line x1="619.97" y1="18.10" x2="619.97" y2="22.80" stroke="#aaa" stroke-width="0.6" />
<line x1="625.42" y1="18.10" x2="625.42" y2="22.80" stroke="#aaa" stroke-width="0.6" />
<line x1="630.88" y1="18.10" x2="630.88" y2="22.80" stroke="#aaa" stroke-width="0.6" />
<line x1="636.32" y1="18.10" x2="636.32" y2="22.80" stroke="#aaa" stroke-width="0.6" />
<line x1="641.77" y1="18.10" x2="641.77" y2="22.80" stroke="#aaa" stroke-width="0.6" />
<line x1="619.97" y1="18.10" x2="620.97" y2="17.40" stroke="#f4b090" stroke-width="0.5" />
<text x="621.27" y="17.70" font-size="2.6" text-anchor="start" fill="#f29070" font-weight="bold">b+</text>
<line x1="625.42" y1="18.10" x2="626.42" y2="17.40" stroke="#f4b090" stroke-width="0.5" />
<text x="626.72" y="17.70" font-size="2.6" text-anchor="start" fill="#f29070" font-weight="bold">b+</text>
<line x1="630.88" y1="18.10" x2="631.88" y2="17.40" stroke="#f4b090" stroke-width="0.5" />
<text x="632.17" y="17.70" font-size="2.6" text-anchor="start" fill="#f29070" font-weight="bold">b+</text>
<line x1="636.32" y1="18.10" x2="637.32" y2="17.40" stroke="#f4b090" stroke-width="0.5" />
<text x="637.62" y="17.70" font-size="2.6" text-anchor="start" fill="#f29070" font-weight="bold">b+</text>
<line x1="641.77" y1="18.10" x2="642.77" y2="17.40" stroke="#f4b090" stroke-width="0.5" />
<text x="643.07" y="17.70" font-size="2.6" text-anchor="start" fill="#f29070" font-weight="bold">b+</text>
<line x1="619.97" y1="22.80" x2="619.17" y2="23.90" stroke="#90d090" stroke-width="0.5" />
<text x="618.57" y="26.10" font-size="2.6" text-anchor="start" fill="#36a836" font-weight="bold">y5</text>
<line x1="625.42" y1="22.80" x2="624.62" y2="23.90" stroke="#90d090" stroke-width="0.5" />
<text x="624.02" y="26.10" font-size="2.6" text-anchor="start" fill="#36a836" font-weight="bold">y4</text>
<line x1="636.32" y1="22.80" x2="635.52" y2="23.90" stroke="#90d090" stroke-width="0.5" />
<text x="634.92" y="26.10" font-size="2.6" text-anchor="start" fill="#36a836" font-weight="bold">y2</text>
<text x="32.30" y="176.30" font-size="3.5" fill="#6a6aff" textLength="68.7" lengthAdjust="spacingAndGlyphs" font-family="Liberation Mono, monospace">MS2scan.1.1.4050.1 File:"SN_88_21.mgf"</text>
<text x="106.00" y="176.30" font-size="3.5" fill="#888" textLength="6.0" lengthAdjust="spacingAndGlyphs" font-family="Liberation Mono, monospace">Seq:</text>
<text x="114.50" y="176.30" font-size="3.5" fill="#6a6aff" textLength="29.2" lengthAdjust="spacingAndGlyphs" font-family="Liberation Mono, monospace">AEGAPAGTGGGSTMAIR</text>
<text x="23.80" y="183.20" font-size="5.6" text-anchor="start" fill="#222" >1.5e + 05</text>
<text x="26.50" y="289.50" font-size="8.0" text-anchor="end" fill="#111" >0</text>
<line x1="29.70" y1="286.10" x2="31.30" y2="286.10" stroke="#888" stroke-width="0.9" />
<text x="26.50" y="279.71" font-size="8.0" text-anchor="end" fill="#111" >10</text>
<line x1="29.70" y1="276.31" x2="31.30" y2="276.31" stroke="#888" stroke-width="0.9" />
<text x="26.50" y="269.92" font-size="8.0" text-anchor="end" fill="#111" >20</text>
<line x1="29.70" y1="266.52" x2="31.30" y2="266.52" stroke="#888" stroke-width="0.9" />
<text x="26.50" y="260.13" font-size="8.0" text-anchor="end" fill="#111" >30</text>
<line x1="29.70" y1="256.73" x2="31.30" y2="256.73" stroke="#888" stroke-width="0.9" />
<text x="26.50" y="250.34" font-size="8.0" text-anchor="end" fill="#111" >40</text>
<line x1="29.70" y1="246.94" x2="31.30" y2="246.94" stroke="#888" stroke-width="0.9" />
<text x="26.50" y="240.55" font-size="8.0" text-anchor="end" fill="#111" >50</text>
<line x1="29.70" y1="237.15" x2="31.30" y2="237.15" stroke="#888" stroke-width="0.9" />
<text x="26.50" y="230.76" font-size="8.0" text-anchor="end" fill="#111" >60</text>
<line x1="29.70" y1="227.36" x2="31.30" y2="227.36" stroke="#888" stroke-width="0.9" />
<text x="26.50" y="220.97" font-size="8.0" text-anchor="end" fill="#111" >70</text>
<line x1="29.70" y1="217.57" x2="31.30" y2="217.57" stroke="#888" stroke-width="0.9" />
<text x="26.50" y="211.18" font-size="8.0" text-anchor="end" fill="#111" >80</text>
<line x1="29.70" y1="207.78" x2="31.30" y2="207.78" stroke="#888" stroke-width="0.9" />
<text x="26.50" y="201.39" font-size="8.0" text-anchor="end" fill="#111" >90</text>
<line x1="29.70" y1="197.99" x2="31.30" y2="197.99" stroke="#888" stroke-width="0.9" />
<text x="26.50" y="191.60" font-size="8.0" text-anchor="end" fill="#111" >100</text>
<line x1="29.70" y1="188.20" x2="31.30" y2="188.20" stroke="#888" stroke-width="0.9" />
<rect x="31" y="187.70" width="1" height="98.40" fill="#e6e6e6"/>
<rect x="31" y="189" width="1" height="1" fill="#9a9a9a"/>
<rect x="31" y="191" width="1" height="1" fill="#9a9a9a"/>
<rect x="31" y="193" width="1" height="1" fill="#9a9a9a"/>
<rect x="31" y="195" width="1" height="1" fill="#9a9a9a"/>
<rect x="31" y="197" width="1" height="1" fill="#9a9a9a"/>
<rect x="31" y="199" width="1" height="1" fill="#9a9a9a"/>
<rect x="31" y="201" width="1" height="1" fill="#9a9a9a"/>
<rect x="31" y="203" width="1" height="1" fill="#9a9a9a"/>
<rect x="31" y="205" width="1" height="1" fill="#9a9a9a"/>
<rect x="31" y="207" width="1" height="1" fill="#9a9a9a"/>
<rect x="31" y="209" width="1" height="1" fill="#9a9a9a"/>
<rect x="31" y="211" width="1" height="1" fill="#9a9a9a"/>
<rect x="31" y="213" width="1" height="1" fill="#9a9a9a"/>
<rect x="31" y="215" width="1" height="1" fill="#9a9a9a"/>
<rect x="31" y="217" width="1" height="1" fill="#9a9a9a"/>
<rect x="31" y="219" width="1" height="1" fill="#9a9a9a"/>
<rect x="31" y="221" width="1" height="1" fill="#9a9a9a"/>
<rect x="31" y="223" width="1" height="1" fill="#9a9a9a"/>
<rect x="31" y="225" width="1" height="1" fill="#9a9a9a"/>
<rect x="31" y="227" width="1" height="1" fill="#9a9a9a"/>
<rect x="31" y="229" width="1" height="1" fill="#9a9a9a"/>
<rect x="31" y="231" width="1" height="1" fill="#9a9a9a"/>
<rect x="31" y="233" width="1" height="1" fill="#9a9a9a"/>
<rect x="31" y="235" width="1" height="1" fill="#9a9a9a"/>
<rect x="31" y="237" width="1" height="1" fill="#9a9a9a"/>
<rect x="31" y="239" width="1" height="1" fill="#9a9a9a"/>
<rect x="31" y="241" width="1" height="1" fill="#9a9a9a"/>
<rect x="31" y="243" width="1" height="1" fill="#9a9a9a"/>
<rect x="31" y="245" width="1" height="1" fill="#9a9a9a"/>
<rect x="31" y="247" width="1" height="1" fill="#9a9a9a"/>
<rect x="31" y="249" width="1" height="1" fill="#9a9a9a"/>
<rect x="31" y="251" width="1" height="1" fill="#9a9a9a"/>
<rect x="31" y="253" width="1" height="1" fill="#9a9a9a"/>
<rect x="31" y="255" width="1" height="1" fill="#9a9a9a"/>
<rect x="31" y="257" width="1" height="1" fill="#9a9a9a"/>
<rect x="31" y="259" width="1" height="1" fill="#9a9a9a"/>
<rect x="31" y="261" width="1" height="1" fill="#9a9a9a"/>
<rect x="31" y="263" width="1" height="1" fill="#9a9a9a"/>
<rect x="31" y="265" width="1" height="1" fill="#9a9a9a"/>
<rect x="31" y="267" width="1" height="1" fill="#9a9a9a"/>
<rect x="31" y="269" width="1" height="1" fill="#9a9a9a"/>
<rect x="31" y="271" width="1" height="1" fill="#9a9a9a"/>
<rect x="31" y="273" width="1" height="1" fill="#9a9a9a"/>
<rect x="31" y="275" width="1" height="1" fill="#9a9a9a"/>
<rect x="31" y="277" width="1" height="1" fill="#9a9a9a"/>
<rect x="31" y="279" width="1" height="1" fill="#9a9a9a"/>
<rect x="31" y="281" width="1" height="1" fill="#9a9a9a"/>
<rect x="31" y="283" width="1" height="1" fill="#9a9a9a"/>
<rect x="31" y="285" width="1" height="1" fill="#9a9a9a"/>
<line x1="31.30" y1="286.10" x2="345.30" y2="286.10" stroke="#c4c4c4" stroke-width="1.0" />
<line x1="31.82" y1="286.10" x2="31.82" y2="288.20" stroke="#8c8c8c" stroke-width="0.8" />
<line x1="37.71" y1="286.10" x2="37.71" y2="288.20" stroke="#8c8c8c" stroke-width="0.8" />
<line x1="43.61" y1="286.10" x2="43.61" y2="288.20" stroke="#8c8c8c" stroke-width="0.8" />
<line x1="49.50" y1="286.10" x2="49.50" y2="288.20" stroke="#8c8c8c" stroke-width="0.8" />
<line x1="55.39" y1="286.10" x2="55.39" y2="288.20" stroke="#8c8c8c" stroke-width="0.8" />
<line x1="61.29" y1="286.10" x2="61.29" y2="288.20" stroke="#8c8c8c" stroke-width="0.8" />
<line x1="67.18" y1="286.10" x2="67.18" y2="288.20" stroke="#8c8c8c" stroke-width="0.8" />
<line x1="73.08" y1="286.10" x2="73.08" y2="288.20" stroke="#8c8c8c" stroke-width="0.8" />
<line x1="78.97" y1="286.10" x2="78.97" y2="288.20" stroke="#8c8c8c" stroke-width="0.8" />
<line x1="84.86" y1="286.10" x2="84.86" y2="288.20" stroke="#8c8c8c" stroke-width="0.8" />
<line x1="90.76" y1="286.10" x2="90.76" y2="288.20" stroke="#8c8c8c" stroke-width="0.8" />
<line x1="96.65" y1="286.10" x2="96.65" y2="288.20" stroke="#8c8c8c" stroke-width="0.8" />
<line x1="102.55" y1="286.10" x2="102.55" y2="288.20" stroke="#8c8c8c" stroke-width="0.8" />
<line x1="108.44" y1="286.10" x2="108.44" y2="288.20" stroke="#8c8c8c" stroke-width="0.8" />
<line x1="114.33" y1="286.10" x2="114.33" y2="288.20" stroke="#8c8c8c" stroke-width="0.8" />
<line x1="120.23" y1="286.10" x2="120.23" y2="288.20" stroke="#8c8c8c" stroke-width="0.8" />
<line x1="126.12" y1="286.10" x2="126.12" y2="288.20" stroke="#8c8c8c" stroke-width="0.8" />
<line x1="132.02" y1="286.10" x2="132.02" y2="288.20" stroke="#8c8c8c" stroke-width="0.8" />
<line x1="137.91" y1="286.10" x2="137.91" y2="288.20" stroke="#8c8c8c" stroke-width="0.8" />
<line x1="143.80" y1="286.10" x2="143.80" y2="288.20" stroke="#8c8c8c" stroke-width="0.8" />
<line x1="149.70" y1="286.10" x2="149.70" y2="288.20" stroke="#8c8c8c" stroke-width="0.8" />
<line x1="155.59" y1="286.10" x2="155.59" y2="288.20" stroke="#8c8c8c" stroke-width="0.8" />
<line x1="161.49" y1="286.10" x2="161.49" y2="288.20" stroke="#8c8c8c" stroke-width="0.8" />
<line x1="167.38" y1="286.10" x2="167.38" y2="288.20" stroke="#8c8c8c" stroke-width="0.8" />
<line x1="173.27" y1="286.10" x2="173.27" y2="288.20" stroke="#8c8c8c" stroke-width="0.8" />
<line x1="179.17" y1="286.10" x2="179.17" y2="288.20" stroke="#8c8c8c" stroke-width="0.8" />
<line x1="185.06" y1="286.10" x2="185.06" y2="288.20" stroke="#8c8c8c" stroke-width="0.8" />
<line x1="190.96" y1="286.10" x2="190.96" y2="288.20" stroke="#8c8c8c" stroke-width="0.8" />
<line x1="196.85" y1="286.10" x2="196.85" y2="288.20" stroke="#8c8c8c" stroke-width="0.8" />
<line x1="202.74" y1="286.10" x2="202.74" y2="288.20" stroke="#8c8c8c" stroke-width="0.8" />
<line x1="208.64" y1="286.10" x2="208.64" y2="288.20" stroke="#8c8c8c" stroke-width="0.8" />
<line x1="214.53" y1="286.10" x2="214.53" y2="288.20" stroke="#8c8c8c" stroke-width="0.8" />
<line x1="220.43" y1="286.10" x2="220.43" y2="288.20" stroke="#8c8c8c" stroke-width="0.8" />
<line x1="226.32" y1="286.10" x2="226.32" y2="288.20" stroke="#8c8c8c" stroke-width="0.8" />
<line x1="232.21" y1="286.10" x2="232.21" y2="288.20" stroke="#8c8c8c" stroke-width="0.8" />
<line x1="238.11" y1="286.10" x2="238.11" y2="288.20" stroke="#8c8c8c" stroke-width="0.8" />
<line x1="244.00" y1="286.10" x2="244.00" y2="288.20" stroke="#8c8c8c" stroke-width="0.8" />
<line x1="249.90" y1="286.10" x2="249.90" y2="288.20" stroke="#8c8c8c" stroke-width="0.8" />
<line x1="255.79" y1="286.10" x2="255.79" y2="288.20" stroke="#8c8c8c" stroke-width="0.8" />
<line x1="261.68" y1="286.10" x2="261.68" y2="288.20" stroke="#8c8c8c" stroke-width="0.8" />
<line x1="267.58" y1="286.10" x2="267.58" y2="288.20" stroke="#8c8c8c" stroke-width="0.8" />
<line x1="273.47" y1="286.10" x2="273.47" y2="288.20" stroke="#8c8c8c" stroke-width="0.8" />
<line x1="279.37" y1="286.10" x2="279.37" y2="288.20" stroke="#8c8c8c" stroke-width="0.8" />
<line x1="285.26" y1="286.10" x2="285.26" y2="288.20" stroke="#8c8c8c" stroke-width="0.8" />
<line x1="291.15" y1="286.10" x2="291.15" y2="288.20" stroke="#8c8c8c" stroke-width="0.8" />
<line x1="297.05" y1="286.10" x2="297.05" y2="288.20" stroke="#8c8c8c" stroke-width="0.8" />
<line x1="302.94" y1="286.10" x2="302.94" y2="288.20" stroke="#8c8c8c" stroke-width="0.8" />
<line x1="308.84" y1="286.10" x2="308.84" y2="288.20" stroke="#8c8c8c" stroke-width="0.8" />
<line x1="314.73" y1="286.10" x2="314.73" y2="288.20" stroke="#8c8c8c" stroke-width="0.8" />
<line x1="320.62" y1="286.10" x2="320.62" y2="288.20" stroke="#8c8c8c" stroke-width="0.8" />
<line x1="326.52" y1="286.10" x2="326.52" y2="288.20" stroke="#8c8c8c" stroke-width="0.8" />
<line x1="332.41" y1="286.10" x2="332.41" y2="288.20" stroke="#8c8c8c" stroke-width="0.8" />
<line x1="338.31" y1="286.10" x2="338.31" y2="288.20" stroke="#8c8c8c" stroke-width="0.8" />
<line x1="344.20" y1="286.10" x2="344.20" y2="288.20" stroke="#8c8c8c" stroke-width="0.8" />
<text x="48.90" y="300.20" font-size="10" text-anchor="middle" fill="#111" >200</text>
<text x="79.37" y="300.20" font-size="10" text-anchor="middle" fill="#111" >300</text>
<text x="108.44" y="300.20" font-size="10" text-anchor="middle" fill="#111" >400</text>
<text x="138.31" y="300.20" font-size="10" text-anchor="middle" fill="#111" >500</text>
<text x="167.38" y="300.20" font-size="10" text-anchor="middle" fill="#111" >600</text>
<text x="196.85" y="300.20" font-size="10" text-anchor="middle" fill="#111" >700</text>
<text x="226.72" y="300.20" font-size="10" text-anchor="middle" fill="#111" >800</text>
<text x="255.79" y="300.20" font-size="10" text-anchor="middle" fill="#111" >900</text>
<text x="285.26" y="300.20" font-size="10" text-anchor="middle" fill="#111" >1000</text>
<text x="315.53" y="300.20" font-size="10" text-anchor="middle" fill="#111" >1100</text>
<text transform="translate(7.30,237.30) rotate(-90)" font-size="8.3" text-anchor="middle" fill="#111">Relative intensity, %</text>
<text x="195.10" y="313.10" font-size="10" text-anchor="middle" fill="#111" >m/z</text>
<text x="195.00" y="326.10" font-size="9.6" text-anchor="middle" fill="#111" >ORF10_AC127076.2:73:480</text>
<line x1="40.40" y1="283.00" x2="40.40" y2="286.10" stroke="#5a5a5a" stroke-width="1.2" />
<line x1="41.40" y1="280.90" x2="41.40" y2="286.10" stroke="#5a5a5a" stroke-width="1.2" />
<line x1="42.20" y1="273.90" x2="42.20" y2="286.10" stroke="#f9ae90" stroke-width="1.2" />
<line x1="49.50" y1="274.80" x2="49.50" y2="286.10" stroke="#5a5a5a" stroke-width="1.2" />
<line x1="61.60" y1="282.70" x2="61.60" y2="286.10" stroke="#5a5a5a" stroke-width="1.2" />
<line x1="87.60" y1="284.00" x2="87.60" y2="286.10" stroke="#72c482" stroke-width="1.2" />
<line x1="91.30" y1="280.90" x2="91.30" y2="286.10" stroke="#5a5a5a" stroke-width="1.2" />
<line x1="134.00" y1="281.90" x2="134.00" y2="286.10" stroke="#7a7a7a" stroke-width="1.2" />
<line x1="150.20" y1="276.10" x2="150.20" y2="286.10" stroke="#5a5a5a" stroke-width="1.2" />
<line x1="150.40" y1="282.00" x2="150.40" y2="286.10" stroke="#262626" stroke-width="1.2" />
<line x1="163.90" y1="266.00" x2="163.90" y2="286.10" stroke="#fcccb8" stroke-width="1.5" />
<line x1="201.80" y1="280.90" x2="201.80" y2="286.10" stroke="#7a7a7a" stroke-width="1.2" />
<line x1="204.70" y1="274.00" x2="204.70" y2="286.10" stroke="#7a7a7a" stroke-width="1.2" />
<line x1="210.20" y1="187.70" x2="210.20" y2="286.10" stroke="#7a7a7a" stroke-width="1.2" />
<line x1="220.40" y1="265.10" x2="220.40" y2="286.10" stroke="#5a5a5a" stroke-width="1.2" />
<line x1="222.80" y1="255.00" x2="222.80" y2="286.10" stroke="#ababab" stroke-width="1.2" />
<line x1="241.10" y1="284.50" x2="241.10" y2="286.10" stroke="#f9ae90" stroke-width="1.2" />
<line x1="268.40" y1="280.20" x2="268.40" y2="286.10" stroke="#5a5a5a" stroke-width="1.2" />
<line x1="287.70" y1="271.00" x2="287.70" y2="286.10" stroke="#f9ae90" stroke-width="1.2" />
<line x1="299.40" y1="268.70" x2="299.40" y2="286.10" stroke="#5a5a5a" stroke-width="1.2" />
<line x1="308.60" y1="279.00" x2="308.60" y2="286.10" stroke="#f9ae90" stroke-width="1.2" />
<line x1="337.40" y1="261.60" x2="337.40" y2="286.10" stroke="#f9ae90" stroke-width="1.2" />
<line x1="42.20" y1="262.10" x2="42.20" y2="273.90" stroke="#fddccc" stroke-width="1.2" />
<text transform="translate(43.20,273.90) rotate(-90)" font-size="2.4" fill="#f3a690" textLength="11.8" lengthAdjust="spacingAndGlyphs" font-family="Liberation Mono, monospace">y4+ 443.2</text>
<line x1="49.50" y1="246.90" x2="49.50" y2="273.90" stroke="#c8eac8" stroke-width="1.2" />
<text transform="translate(50.50,273.90) rotate(-90)" font-size="2.4" fill="#4aa84a" textLength="27.0" lengthAdjust="spacingAndGlyphs" font-family="Liberation Mono, monospace">y4+ 443.2</text>
<line x1="87.60" y1="269.00" x2="87.60" y2="284.50" stroke="#c8eac8" stroke-width="1.2" />
<text transform="translate(88.60,284.50) rotate(-90)" font-size="2.4" fill="#4aa84a" textLength="15.5" lengthAdjust="spacingAndGlyphs" font-family="Liberation Mono, monospace">y4+ 443.2</text>
<line x1="163.90" y1="256.00" x2="163.90" y2="266.00" stroke="#fddccc" stroke-width="1.2" />
<text transform="translate(164.90,266.00) rotate(-90)" font-size="2.4" fill="#f3a690" textLength="10.0" lengthAdjust="spacingAndGlyphs" font-family="Liberation Mono, monospace">y4+ 443.2</text>
<line x1="222.80" y1="240.00" x2="222.80" y2="255.00" stroke="#ececec" stroke-width="1.2" />
<text transform="translate(223.80,255.00) rotate(-90)" font-size="2.4" fill="#bdbdbd" textLength="15.0" lengthAdjust="spacingAndGlyphs" font-family="Liberation Mono, monospace">y4+ 443.2</text>
<line x1="241.10" y1="267.50" x2="241.10" y2="284.50" stroke="#fddccc" stroke-width="1.2" />
<text transform="translate(242.10,284.50) rotate(-90)" font-size="2.4" fill="#f3a690" textLength="17.0" lengthAdjust="spacingAndGlyphs" font-family="Liberation Mono, monospace">y4+ 443.2</text>
<line x1="287.70" y1="256.30" x2="287.70" y2="271.00" stroke="#fddccc" stroke-width="1.2" />
<text transform="translate(288.70,271.00) rotate(-90)" font-size="2.4" fill="#f3a690" textLength="14.7" lengthAdjust="spacingAndGlyphs" font-family="Liberation Mono, monospace">y4+ 443.2</text>
<line x1="308.60" y1="265.90" x2="308.60" y2="279.00" stroke="#fddccc" stroke-width="1.2" />
<text transform="translate(309.60,279.00) rotate(-90)" font-size="2.4" fill="#f3a690" textLength="13.1" lengthAdjust="spacingAndGlyphs" font-family="Liberation Mono, monospace">y4+ 443.2</text>
<line x1="337.40" y1="246.70" x2="337.40" y2="261.60" stroke="#fddccc" stroke-width="1.2" />
<text transform="translate(338.40,261.60) rotate(-90)" font-size="2.4" fill="#f3a690" textLength="14.9" lengthAdjust="spacingAndGlyphs" font-family="Liberation Mono, monospace">y4+ 443.2</text>
<text x="229.50" y="194.90" font-size="4.6" text-anchor="middle" fill="#262626" >A</text>
<text x="235.56" y="194.90" font-size="4.6" text-anchor="middle" fill="#262626" >E</text>
<text x="241.62" y="194.90" font-size="4.6" text-anchor="middle" fill="#262626" >G</text>
<text x="247.68" y="194.90" font-size="4.6" text-anchor="middle" fill="#262626" >A</text>
<text x="253.74" y="194.90" font-size="4.6" text-anchor="middle" fill="#262626" >P</text>
<text x="259.80" y="194.90" font-size="4.6" text-anchor="middle" fill="#262626" >A</text>
<text x="265.86" y="194.90" font-size="4.6" text-anchor="middle" fill="#262626" >G</text>
<text x="271.92" y="194.90" font-size="4.6" text-anchor="middle" fill="#262626" >T</text>
<text x="277.98" y="194.90" font-size="4.6" text-anchor="middle" fill="#262626" >G</text>
<text x="284.04" y="194.90" font-size="4.6" text-anchor="middle" fill="#262626" >G</text>
<text x="290.10" y="194.90" font-size="4.6" text-anchor="middle" fill="#262626" >G</text>
<text x="296.16" y="194.90" font-size="4.6" text-anchor="middle" fill="#262626" >S</text>
<text x="302.22" y="194.90" font-size="4.6" text-anchor="middle" fill="#262626" >T</text>
<text x="308.28" y="194.90" font-size="4.6" text-anchor="middle" fill="#262626" >M</text>
<text x="314.34" y="194.90" font-size="4.6" text-anchor="middle" fill="#262626" >A</text>
<text x="320.40" y="194.90" font-size="4.6" text-anchor="middle" fill="#262626" >I</text>
<text x="326.46" y="194.90" font-size="4.6" text-anchor="middle" fill="#262626" >R</text>
<text x="224.00" y="189.30" font-size="3.5" text-anchor="start" fill="#4a4aff" font-weight="bold">2+</text>
<line x1="238.59" y1="190.70" x2="238.59" y2="195.40" stroke="#aaa" stroke-width="0.6" />
<line x1="244.65" y1="190.70" x2="244.65" y2="195.40" stroke="#aaa" stroke-width="0.6" />
<line x1="250.71" y1="190.70" x2="250.71" y2="195.40" stroke="#aaa" stroke-width="0.6" />
<line x1="256.77" y1="190.70" x2="256.77" y2="195.40" stroke="#aaa" stroke-width="0.6" />
<line x1="262.83" y1="190.70" x2="262.83" y2="195.40" stroke="#aaa" stroke-width="0.6" />
<line x1="274.95" y1="190.70" x2="274.95" y2="195.40" stroke="#aaa" stroke-width="0.6" />
<line x1="323.43" y1="190.70" x2="323.43" y2="195.40" stroke="#aaa" stroke-width="0.6" />
<line x1="250.71" y1="190.70" x2="251.71" y2="190.00" stroke="#f4b090" stroke-width="0.5" />
<text x="252.01" y="190.30" font-size="2.6" text-anchor="start" fill="#f29070" font-weight="bold">b+</text>
<line x1="256.77" y1="190.70" x2="257.77" y2="190.00" stroke="#f4b090" stroke-width="0.5" />
<text x="258.07" y="190.30" font-size="2.6" text-anchor="start" fill="#f29070" font-weight="bold">b+</text>
<line x1="262.83" y1="190.70" x2="263.83" y2="190.00" stroke="#f4b090" stroke-width="0.5" />
<text x="264.13" y="190.30" font-size="2.6" text-anchor="start" fill="#f29070" font-weight="bold">b+</text>
<line x1="274.95" y1="190.70" x2="275.95" y2="190.00" stroke="#f4b090" stroke-width="0.5" />
<text x="276.25" y="190.30" font-size="2.6" text-anchor="start" fill="#f29070" font-weight="bold">b+</text>
<line x1="323.43" y1="190.70" x2="324.43" y2="190.00" stroke="#f4b090" stroke-width="0.5" />
<text x="324.73" y="190.30" font-size="2.6" text-anchor="start" fill="#f29070" font-weight="bold">b+</text>
<line x1="238.59" y1="195.40" x2="237.79" y2="196.50" stroke="#90d090" stroke-width="0.5" />
<text x="237.19" y="198.70" font-size="2.6" text-anchor="start" fill="#36a836" font-weight="bold">y15</text>
<line x1="244.65" y1="195.40" x2="243.85" y2="196.50" stroke="#90d090" stroke-width="0.5" />
<text x="243.25" y="198.70" font-size="2.6" text-anchor="start" fill="#36a836" font-weight="bold">y14</text>
<line x1="250.71" y1="195.40" x2="249.91" y2="196.50" stroke="#90d090" stroke-width="0.5" />
<text x="249.31" y="198.70" font-size="2.6" text-anchor="start" fill="#36a836" font-weight="bold">y13</text>
<text x="386.00" y="176.30" font-size="3.5" fill="#6a6aff" textLength="69.6" lengthAdjust="spacingAndGlyphs" font-family="Liberation Mono, monospace">MS2scan.1.1.3376.1 File:"SN_88_15.mgf"</text>
<text x="462.20" y="176.30" font-size="3.5" fill="#888" textLength="5.5" lengthAdjust="spacingAndGlyphs" font-family="Liberation Mono, monospace">Seq:</text>
<text x="469.90" y="176.30" font-size="3.5" fill="#6a6aff" textLength="12.8" lengthAdjust="spacingAndGlyphs" font-family="Liberation Mono, monospace">HLVLFLK</text>
<text x="377.90" y="183.20" font-size="5.6" text-anchor="start" fill="#222" >8.6e + 04</text>
<text x="382.30" y="289.15" font-size="8.0" text-anchor="end" fill="#111" >0</text>
<line x1="384.20" y1="285.40" x2="385.80" y2="285.40" stroke="#888" stroke-width="0.9" />
<text x="382.30" y="279.41" font-size="8.0" text-anchor="end" fill="#111" >10</text>
<line x1="384.20" y1="275.66" x2="385.80" y2="275.66" stroke="#888" stroke-width="0.9" />
<text x="382.30" y="269.67" font-size="8.0" text-anchor="end" fill="#111" >20</text>
<line x1="384.20" y1="265.92" x2="385.80" y2="265.92" stroke="#888" stroke-width="0.9" />
<text x="382.30" y="259.93" font-size="8.0" text-anchor="end" fill="#111" >30</text>
<line x1="384.20" y1="256.18" x2="385.80" y2="256.18" stroke="#888" stroke-width="0.9" />
<text x="382.30" y="250.19" font-size="8.0" text-anchor="end" fill="#111" >40</text>
<line x1="384.20" y1="246.44" x2="385.80" y2="246.44" stroke="#888" stroke-width="0.9" />
<text x="382.30" y="240.45" font-size="8.0" text-anchor="end" fill="#111" >50</text>
<line x1="384.20" y1="236.70" x2="385.80" y2="236.70" stroke="#888" stroke-width="0.9" />
<text x="382.30" y="230.71" font-size="8.0" text-anchor="end" fill="#111" >60</text>
<line x1="384.20" y1="226.96" x2="385.80" y2="226.96" stroke="#888" stroke-width="0.9" />
<text x="382.30" y="220.97" font-size="8.0" text-anchor="end" fill="#111" >70</text>
<line x1="384.20" y1="217.22" x2="385.80" y2="217.22" stroke="#888" stroke-width="0.9" />
<text x="382.30" y="211.23" font-size="8.0" text-anchor="end" fill="#111" >80</text>
<line x1="384.20" y1="207.48" x2="385.80" y2="207.48" stroke="#888" stroke-width="0.9" />
<text x="382.30" y="201.49" font-size="8.0" text-anchor="end" fill="#111" >90</text>
<line x1="384.20" y1="197.74" x2="385.80" y2="197.74" stroke="#888" stroke-width="0.9" />
<text x="382.30" y="191.75" font-size="8.0" text-anchor="end" fill="#111" >100</text>
<line x1="384.20" y1="188.00" x2="385.80" y2="188.00" stroke="#888" stroke-width="0.9" />
<rect x="385" y="187.50" width="1" height="97.90" fill="#e6e6e6"/>
<rect x="385" y="189" width="1" height="1" fill="#9a9a9a"/>
<rect x="385" y="191" width="1" height="1" fill="#9a9a9a"/>
<rect x="385" y="193" width="1" height="1" fill="#9a9a9a"/>
<rect x="385" y="195" width="1" height="1" fill="#9a9a9a"/>
<rect x="385" y="197" width="1" height="1" fill="#9a9a9a"/>
<rect x="385" y="199" width="1" height="1" fill="#9a9a9a"/>
<rect x="385" y="201" width="1" height="1" fill="#9a9a9a"/>
<rect x="385" y="203" width="1" height="1" fill="#9a9a9a"/>
<rect x="385" y="205" width="1" height="1" fill="#9a9a9a"/>
<rect x="385" y="207" width="1" height="1" fill="#9a9a9a"/>
<rect x="385" y="209" width="1" height="1" fill="#9a9a9a"/>
<rect x="385" y="211" width="1" height="1" fill="#9a9a9a"/>
<rect x="385" y="213" width="1" height="1" fill="#9a9a9a"/>
<rect x="385" y="215" width="1" height="1" fill="#9a9a9a"/>
<rect x="385" y="217" width="1" height="1" fill="#9a9a9a"/>
<rect x="385" y="219" width="1" height="1" fill="#9a9a9a"/>
<rect x="385" y="221" width="1" height="1" fill="#9a9a9a"/>
<rect x="385" y="223" width="1" height="1" fill="#9a9a9a"/>
<rect x="385" y="225" width="1" height="1" fill="#9a9a9a"/>
<rect x="385" y="227" width="1" height="1" fill="#9a9a9a"/>
<rect x="385" y="229" width="1" height="1" fill="#9a9a9a"/>
<rect x="385" y="231" width="1" height="1" fill="#9a9a9a"/>
<rect x="385" y="233" width="1" height="1" fill="#9a9a9a"/>
<rect x="385" y="235" width="1" height="1" fill="#9a9a9a"/>
<rect x="385" y="237" width="1" height="1" fill="#9a9a9a"/>
<rect x="385" y="239" width="1" height="1" fill="#9a9a9a"/>
<rect x="385" y="241" width="1" height="1" fill="#9a9a9a"/>
<rect x="385" y="243" width="1" height="1" fill="#9a9a9a"/>
<rect x="385" y="245" width="1" height="1" fill="#9a9a9a"/>
<rect x="385" y="247" width="1" height="1" fill="#9a9a9a"/>
<rect x="385" y="249" width="1" height="1" fill="#9a9a9a"/>
<rect x="385" y="251" width="1" height="1" fill="#9a9a9a"/>
<rect x="385" y="253" width="1" height="1" fill="#9a9a9a"/>
<rect x="385" y="255" width="1" height="1" fill="#9a9a9a"/>
<rect x="385" y="257" width="1" height="1" fill="#9a9a9a"/>
<rect x="385" y="259" width="1" height="1" fill="#9a9a9a"/>
<rect x="385" y="261" width="1" height="1" fill="#9a9a9a"/>
<rect x="385" y="263" width="1" height="1" fill="#9a9a9a"/>
<rect x="385" y="265" width="1" height="1" fill="#9a9a9a"/>
<rect x="385" y="267" width="1" height="1" fill="#9a9a9a"/>
<rect x="385" y="269" width="1" height="1" fill="#9a9a9a"/>
<rect x="385" y="271" width="1" height="1" fill="#9a9a9a"/>
<rect x="385" y="273" width="1" height="1" fill="#9a9a9a"/>
<rect x="385" y="275" width="1" height="1" fill="#9a9a9a"/>
<rect x="385" y="277" width="1" height="1" fill="#9a9a9a"/>
<rect x="385" y="279" width="1" height="1" fill="#9a9a9a"/>
<rect x="385" y="281" width="1" height="1" fill="#9a9a9a"/>
<rect x="385" y="283" width="1" height="1" fill="#9a9a9a"/>
<line x1="385.80" y1="285.40" x2="699.90" y2="285.40" stroke="#c4c4c4" stroke-width="1.0" />
<line x1="392.02" y1="285.40" x2="392.02" y2="287.50" stroke="#8c8c8c" stroke-width="0.8" />
<line x1="402.16" y1="285.40" x2="402.16" y2="287.50" stroke="#8c8c8c" stroke-width="0.8" />
<line x1="412.30" y1="285.40" x2="412.30" y2="287.50" stroke="#8c8c8c" stroke-width="0.8" />
<line x1="422.44" y1="285.40" x2="422.44" y2="287.50" stroke="#8c8c8c" stroke-width="0.8" />
<line x1="432.58" y1="285.40" x2="432.58" y2="287.50" stroke="#8c8c8c" stroke-width="0.8" />
<line x1="442.72" y1="285.40" x2="442.72" y2="287.50" stroke="#8c8c8c" stroke-width="0.8" />
<line x1="452.86" y1="285.40" x2="452.86" y2="287.50" stroke="#8c8c8c" stroke-width="0.8" />
<line x1="463.00" y1="285.40" x2="463.00" y2="287.50" stroke="#8c8c8c" stroke-width="0.8" />
<line x1="473.14" y1="285.40" x2="473.14" y2="287.50" stroke="#8c8c8c" stroke-width="0.8" />
<line x1="483.28" y1="285.40" x2="483.28" y2="287.50" stroke="#8c8c8c" stroke-width="0.8" />
<line x1="493.42" y1="285.40" x2="493.42" y2="287.50" stroke="#8c8c8c" stroke-width="0.8" />
<line x1="503.56" y1="285.40" x2="503.56" y2="287.50" stroke="#8c8c8c" stroke-width="0.8" />
<line x1="513.70" y1="285.40" x2="513.70" y2="287.50" stroke="#8c8c8c" stroke-width="0.8" />
<line x1="523.84" y1="285.40" x2="523.84" y2="287.50" stroke="#8c8c8c" stroke-width="0.8" />
<line x1="533.98" y1="285.40" x2="533.98" y2="287.50" stroke="#8c8c8c" stroke-width="0.8" />
<line x1="544.12" y1="285.40" x2="544.12" y2="287.50" stroke="#8c8c8c" stroke-width="0.8" />
<line x1="554.26" y1="285.40" x2="554.26" y2="287.50" stroke="#8c8c8c" stroke-width="0.8" />
<line x1="564.40" y1="285.40" x2="564.40" y2="287.50" stroke="#8c8c8c" stroke-width="0.8" />
<line x1="574.54" y1="285.40" x2="574.54" y2="287.50" stroke="#8c8c8c" stroke-width="0.8" />
<line x1="584.68" y1="285.40" x2="584.68" y2="287.50" stroke="#8c8c8c" stroke-width="0.8" />
<line x1="594.82" y1="285.40" x2="594.82" y2="287.50" stroke="#8c8c8c" stroke-width="0.8" />
<line x1="604.96" y1="285.40" x2="604.96" y2="287.50" stroke="#8c8c8c" stroke-width="0.8" />
<line x1="615.10" y1="285.40" x2="615.10" y2="287.50" stroke="#8c8c8c" stroke-width="0.8" />
<line x1="625.24" y1="285.40" x2="625.24" y2="287.50" stroke="#8c8c8c" stroke-width="0.8" />
<line x1="635.38" y1="285.40" x2="635.38" y2="287.50" stroke="#8c8c8c" stroke-width="0.8" />
<line x1="645.52" y1="285.40" x2="645.52" y2="287.50" stroke="#8c8c8c" stroke-width="0.8" />
<line x1="655.66" y1="285.40" x2="655.66" y2="287.50" stroke="#8c8c8c" stroke-width="0.8" />
<line x1="665.80" y1="285.40" x2="665.80" y2="287.50" stroke="#8c8c8c" stroke-width="0.8" />
<line x1="675.94" y1="285.40" x2="675.94" y2="287.50" stroke="#8c8c8c" stroke-width="0.8" />
<line x1="686.08" y1="285.40" x2="686.08" y2="287.50" stroke="#8c8c8c" stroke-width="0.8" />
<line x1="696.22" y1="285.40" x2="696.22" y2="287.50" stroke="#8c8c8c" stroke-width="0.8" />
<text x="412.30" y="300.20" font-size="10" text-anchor="middle" fill="#111" >100</text>
<text x="463.00" y="300.20" font-size="10" text-anchor="middle" fill="#111" >200</text>
<text x="513.70" y="300.20" font-size="10" text-anchor="middle" fill="#111" >300</text>
<text x="564.40" y="300.20" font-size="10" text-anchor="middle" fill="#111" >400</text>
<text x="615.10" y="300.20" font-size="10" text-anchor="middle" fill="#111" >500</text>
<text x="665.80" y="300.20" font-size="10" text-anchor="middle" fill="#111" >600</text>
<text transform="translate(363.00,237.40) rotate(-90)" font-size="8.3" text-anchor="middle" fill="#111">Relative intensity, %</text>
<text x="538.90" y="312.60" font-size="10" text-anchor="middle" fill="#111" >m/z</text>
<text x="539.60" y="326.10" font-size="9.6" text-anchor="middle" fill="#111" >ORF6_AABR07066020.1:568:329</text>
<line x1="396.40" y1="273.60" x2="396.40" y2="285.40" stroke="#ababab" stroke-width="1.2" />
<line x1="397.50" y1="259.90" x2="397.50" y2="285.40" stroke="#7a7a7a" stroke-width="1.2" />
<line x1="403.30" y1="256.80" x2="403.30" y2="285.40" stroke="#7a7a7a" stroke-width="1.2" />
<line x1="404.30" y1="187.80" x2="404.30" y2="285.40" stroke="#5a5a5a" stroke-width="1.2" />
<line x1="404.30" y1="276.00" x2="404.30" y2="285.40" stroke="#262626" stroke-width="1.2" />
<line x1="416.30" y1="245.80" x2="416.30" y2="285.40" stroke="#5a5a5a" stroke-width="1.2" />
<line x1="421.30" y1="238.20" x2="421.30" y2="285.40" stroke="#5a5a5a" stroke-width="1.2" />
<line x1="423.20" y1="282.30" x2="423.20" y2="285.40" stroke="#5a5a5a" stroke-width="1.2" />
<line x1="426.00" y1="248.50" x2="426.00" y2="285.40" stroke="#7a7a7a" stroke-width="1.2" />
<line x1="426.30" y1="262.00" x2="426.30" y2="285.40" stroke="#5a5a5a" stroke-width="1.2" />
<line x1="429.40" y1="282.10" x2="429.40" y2="285.40" stroke="#5a5a5a" stroke-width="1.2" />
<line x1="430.90" y1="282.70" x2="430.90" y2="285.40" stroke="#5a5a5a" stroke-width="1.2" />
<line x1="433.20" y1="282.10" x2="433.20" y2="285.40" stroke="#5a5a5a" stroke-width="1.2" />
<line x1="435.20" y1="250.00" x2="435.20" y2="285.40" stroke="#fcccb8" stroke-width="1.5" />
<line x1="444.50" y1="260.00" x2="444.50" y2="285.40" stroke="#5a5a5a" stroke-width="1.2" />
<line x1="445.50" y1="282.00" x2="445.50" y2="285.40" stroke="#5a5a5a" stroke-width="1.2" />
<line x1="447.40" y1="281.70" x2="447.40" y2="285.40" stroke="#5a5a5a" stroke-width="1.2" />
<line x1="449.50" y1="275.60" x2="449.50" y2="285.40" stroke="#72c482" stroke-width="1.2" />
<line x1="451.30" y1="281.50" x2="451.30" y2="285.40" stroke="#ababab" stroke-width="1.2" />
<line x1="454.40" y1="281.50" x2="454.40" y2="285.40" stroke="#5a5a5a" stroke-width="1.2" />
<line x1="461.50" y1="265.10" x2="461.50" y2="285.40" stroke="#5a5a5a" stroke-width="1.2" />
<line x1="462.40" y1="279.30" x2="462.40" y2="285.40" stroke="#5a5a5a" stroke-width="1.2" />
<line x1="466.20" y1="273.80" x2="466.20" y2="285.40" stroke="#7a7a7a" stroke-width="1.2" />
<line x1="468.30" y1="269.30" x2="468.30" y2="285.40" stroke="#5a5a5a" stroke-width="1.2" />
<line x1="473.50" y1="268.90" x2="473.50" y2="285.40" stroke="#5a5a5a" stroke-width="1.2" />
<line x1="475.40" y1="279.60" x2="475.40" y2="285.40" stroke="#7a7a7a" stroke-width="1.2" />
<line x1="479.30" y1="268.30" x2="479.30" y2="285.40" stroke="#5a5a5a" stroke-width="1.2" />
<line x1="481.30" y1="269.90" x2="481.30" y2="285.40" stroke="#5a5a5a" stroke-width="1.2" />
<line x1="488.30" y1="234.50" x2="488.30" y2="285.40" stroke="#72c482" stroke-width="1.2" />
<line x1="500.80" y1="282.00" x2="500.80" y2="285.40" stroke="#7a7a7a" stroke-width="1.2" />
<line x1="509.80" y1="264.90" x2="509.80" y2="285.40" stroke="#7a7a7a" stroke-width="1.2" />
<line x1="526.60" y1="281.70" x2="526.60" y2="285.40" stroke="#5a5a5a" stroke-width="1.2" />
<line x1="538.40" y1="271.00" x2="538.40" y2="285.40" stroke="#72c482" stroke-width="1.2" />
<line x1="553.00" y1="248.10" x2="553.00" y2="285.40" stroke="#7a7a7a" stroke-width="1.2" />
<line x1="553.30" y1="275.40" x2="553.30" y2="285.40" stroke="#5a5a5a" stroke-width="1.2" />
<line x1="567.50" y1="279.00" x2="567.50" y2="285.40" stroke="#f9ae90" stroke-width="1.2" />
<line x1="572.50" y1="281.40" x2="572.50" y2="285.40" stroke="#5a5a5a" stroke-width="1.2" />
<line x1="581.20" y1="281.90" x2="581.20" y2="285.40" stroke="#5a5a5a" stroke-width="1.2" />
<line x1="596.10" y1="266.50" x2="596.10" y2="285.40" stroke="#72c482" stroke-width="1.2" />
<line x1="624.30" y1="282.00" x2="624.30" y2="285.40" stroke="#f9ae90" stroke-width="1.2" />
<line x1="675.40" y1="282.00" x2="675.40" y2="285.40" stroke="#f9ae90" stroke-width="1.2" />
<line x1="687.30" y1="268.80" x2="687.30" y2="285.40" stroke="#5a5a5a" stroke-width="1.2" />
<line x1="690.40" y1="281.80" x2="690.40" y2="285.40" stroke="#5a5a5a" stroke-width="1.2" />
<line x1="397.50" y1="244.60" x2="397.50" y2="259.90" stroke="#ececec" stroke-width="1.2" />
<text transform="translate(398.50,259.90) rotate(-90)" font-size="2.4" fill="#bdbdbd" textLength="15.3" lengthAdjust="spacingAndGlyphs" font-family="Liberation Mono, monospace">y4+ 443.2</text>
<line x1="435.20" y1="237.00" x2="435.20" y2="250.00" stroke="#fddccc" stroke-width="1.2" />
<text transform="translate(436.20,250.00) rotate(-90)" font-size="2.4" fill="#f3a690" textLength="13.0" lengthAdjust="spacingAndGlyphs" font-family="Liberation Mono, monospace">y4+ 443.2</text>
<line x1="449.50" y1="261.20" x2="449.50" y2="275.60" stroke="#c8eac8" stroke-width="1.2" />
<text transform="translate(450.50,275.60) rotate(-90)" font-size="2.4" fill="#4aa84a" textLength="14.4" lengthAdjust="spacingAndGlyphs" font-family="Liberation Mono, monospace">y4+ 443.2</text>
<line x1="488.30" y1="223.00" x2="488.30" y2="234.50" stroke="#c8eac8" stroke-width="1.2" />
<text transform="translate(489.30,234.50) rotate(-90)" font-size="2.4" fill="#4aa84a" textLength="11.5" lengthAdjust="spacingAndGlyphs" font-family="Liberation Mono, monospace">y4+ 443.2</text>
<line x1="538.40" y1="258.00" x2="538.40" y2="271.00" stroke="#c8eac8" stroke-width="1.2" />
<text transform="translate(539.40,271.00) rotate(-90)" font-size="2.4" fill="#4aa84a" textLength="13.0" lengthAdjust="spacingAndGlyphs" font-family="Liberation Mono, monospace">y4+ 443.2</text>
<line x1="567.50" y1="268.10" x2="567.50" y2="279.00" stroke="#fddccc" stroke-width="1.2" />
<text transform="translate(568.50,279.00) rotate(-90)" font-size="2.4" fill="#f3a690" textLength="10.9" lengthAdjust="spacingAndGlyphs" font-family="Liberation Mono, monospace">y4+ 443.2</text>
<line x1="581.20" y1="267.20" x2="581.20" y2="279.00" stroke="#ececec" stroke-width="1.2" />
<text transform="translate(582.20,279.00) rotate(-90)" font-size="2.4" fill="#bdbdbd" textLength="11.8" lengthAdjust="spacingAndGlyphs" font-family="Liberation Mono, monospace">y4+ 443.2</text>
<line x1="596.10" y1="257.40" x2="596.10" y2="266.50" stroke="#c8eac8" stroke-width="1.2" />
<text transform="translate(597.10,266.50) rotate(-90)" font-size="2.4" fill="#4aa84a" textLength="9.1" lengthAdjust="spacingAndGlyphs" font-family="Liberation Mono, monospace">y4+ 443.2</text>
<line x1="624.30" y1="268.40" x2="624.30" y2="282.00" stroke="#fddccc" stroke-width="1.2" />
<text transform="translate(625.30,282.00) rotate(-90)" font-size="2.4" fill="#f3a690" textLength="13.6" lengthAdjust="spacingAndGlyphs" font-family="Liberation Mono, monospace">y4+ 443.2</text>
<line x1="675.40" y1="268.40" x2="675.40" y2="282.00" stroke="#fddccc" stroke-width="1.2" />
<text transform="translate(676.40,282.00) rotate(-90)" font-size="2.4" fill="#f3a690" textLength="13.6" lengthAdjust="spacingAndGlyphs" font-family="Liberation Mono, monospace">y4+ 443.2</text>
<text x="585.40" y="197.10" font-size="4.8" text-anchor="middle" fill="#262626" >H</text>
<text x="591.25" y="197.10" font-size="4.8" text-anchor="middle" fill="#262626" >L</text>
<text x="597.10" y="197.10" font-size="4.8" text-anchor="middle" fill="#262626" >V</text>
<text x="602.95" y="197.10" font-size="4.8" text-anchor="middle" fill="#262626" >L</text>
<text x="608.80" y="197.10" font-size="4.8" text-anchor="middle" fill="#262626" >F</text>
<text x="614.65" y="197.10" font-size="4.8" text-anchor="middle" fill="#262626" >L</text>
<text x="620.50" y="197.10" font-size="4.8" text-anchor="middle" fill="#262626" >K</text>
<text x="580.00" y="192.00" font-size="3.5" text-anchor="start" fill="#4a4aff" font-weight="bold">3+</text>
<line x1="594.17" y1="192.90" x2="594.17" y2="197.60" stroke="#aaa" stroke-width="0.6" />
<line x1="600.02" y1="192.90" x2="600.02" y2="197.60" stroke="#aaa" stroke-width="0.6" />
<line x1="605.88" y1="192.90" x2="605.88" y2="197.60" stroke="#aaa" stroke-width="0.6" />
<line x1="617.57" y1="192.90" x2="617.57" y2="197.60" stroke="#aaa" stroke-width="0.6" />
<line x1="594.17" y1="192.90" x2="595.17" y2="192.20" stroke="#f4b090" stroke-width="0.5" />
<text x="595.47" y="192.50" font-size="2.6" text-anchor="start" fill="#f29070" font-weight="bold">b+</text>
<line x1="600.02" y1="192.90" x2="601.02" y2="192.20" stroke="#f4b090" stroke-width="0.5" />
<text x="601.32" y="192.50" font-size="2.6" text-anchor="start" fill="#f29070" font-weight="bold">b+</text>
<line x1="605.88" y1="192.90" x2="606.88" y2="192.20" stroke="#f4b090" stroke-width="0.5" />
<text x="607.17" y="192.50" font-size="2.6" text-anchor="start" fill="#f29070" font-weight="bold">b+</text>
<line x1="617.57" y1="192.90" x2="618.57" y2="192.20" stroke="#f4b090" stroke-width="0.5" />
<text x="618.87" y="192.50" font-size="2.6" text-anchor="start" fill="#f29070" font-weight="bold">b+</text>
<line x1="594.17" y1="197.60" x2="593.38" y2="198.70" stroke="#90d090" stroke-width="0.5" />
<text x="592.77" y="200.90" font-size="2.6" text-anchor="start" fill="#36a836" font-weight="bold">y5</text>
<line x1="600.02" y1="197.60" x2="599.23" y2="198.70" stroke="#90d090" stroke-width="0.5" />
<text x="598.62" y="200.90" font-size="2.6" text-anchor="start" fill="#36a836" font-weight="bold">y4</text>
<line x1="605.88" y1="197.60" x2="605.08" y2="198.70" stroke="#90d090" stroke-width="0.5" />
<text x="604.48" y="200.90" font-size="2.6" text-anchor="start" fill="#36a836" font-weight="bold">y3</text>
</svg>
</body></html>
